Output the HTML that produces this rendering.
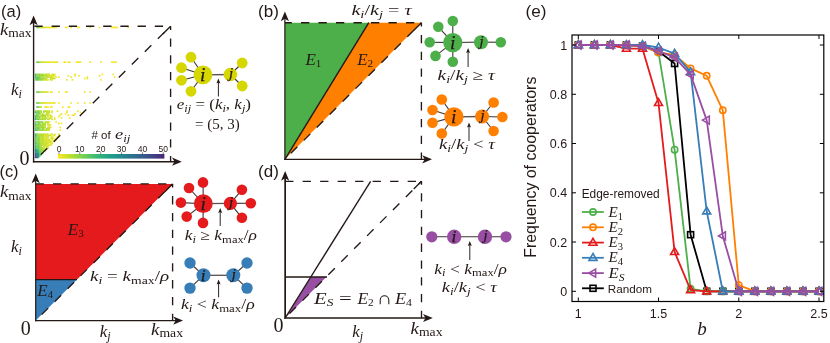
<!DOCTYPE html>
<html><head><meta charset="utf-8"><title>figure</title>
<style>
html,body{margin:0;padding:0;background:#fff;}
body{width:830px;height:343px;overflow:hidden;}
svg{display:block;will-change:transform;}
text{fill:#231815;}
.ss{font-family:"Liberation Sans",sans-serif;}
.mi{font-family:"Liberation Serif",serif;font-style:italic;}
.mr{font-family:"Liberation Serif",serif;font-style:normal;}
.ij{stroke:#231815;stroke-width:0.25px;}
</style></head><body>
<svg width="830" height="343" viewBox="0 0 830 343">
<rect x="0" y="0" width="830" height="343" fill="#ffffff"/>
<text x="1" y="16.5" class="ss" font-size="16.3" textLength="20.2" lengthAdjust="spacingAndGlyphs">(a)</text>
<rect x="36.22" y="26.61" width="1.66" height="1.66" fill="#64ca5e"/>
<rect x="37.58" y="26.61" width="1.66" height="1.66" fill="#7ed24e"/>
<rect x="38.94" y="26.61" width="1.66" height="1.66" fill="#a8db33"/>
<rect x="40.30" y="26.61" width="1.66" height="1.66" fill="#c5e02a"/>
<rect x="41.66" y="26.61" width="1.66" height="1.66" fill="#c6e02a"/>
<rect x="43.02" y="26.61" width="1.66" height="1.66" fill="#d4e228"/>
<rect x="44.38" y="26.61" width="1.66" height="1.66" fill="#e2e427"/>
<rect x="45.74" y="26.61" width="1.66" height="1.66" fill="#dde328"/>
<rect x="47.10" y="26.61" width="1.66" height="1.66" fill="#ede526"/>
<rect x="48.46" y="26.61" width="1.66" height="1.66" fill="#e7e427"/>
<rect x="49.82" y="26.61" width="1.66" height="1.66" fill="#f2e626"/>
<rect x="51.18" y="26.61" width="1.66" height="1.66" fill="#f4e626"/>
<rect x="52.54" y="26.61" width="1.66" height="1.66" fill="#ede526"/>
<rect x="53.90" y="26.61" width="1.66" height="1.66" fill="#e5e427"/>
<rect x="55.26" y="26.61" width="1.66" height="1.66" fill="#f7e626"/>
<rect x="64.78" y="26.61" width="1.66" height="1.66" fill="#f9e725"/>
<rect x="66.14" y="26.61" width="1.66" height="1.66" fill="#f2e626"/>
<rect x="70.22" y="26.61" width="1.66" height="1.66" fill="#ede526"/>
<rect x="77.02" y="26.61" width="1.66" height="1.66" fill="#f3e626"/>
<rect x="78.38" y="26.61" width="1.66" height="1.66" fill="#f6e626"/>
<rect x="89.26" y="26.61" width="1.66" height="1.66" fill="#ece526"/>
<rect x="98.78" y="26.61" width="1.66" height="1.66" fill="#fce725"/>
<rect x="111.02" y="26.61" width="1.66" height="1.66" fill="#eee526"/>
<rect x="112.38" y="26.61" width="1.66" height="1.66" fill="#f8e625"/>
<rect x="113.74" y="26.61" width="1.66" height="1.66" fill="#fbe725"/>
<rect x="115.10" y="26.61" width="1.66" height="1.66" fill="#fbe725"/>
<rect x="116.46" y="26.61" width="1.66" height="1.66" fill="#f8e625"/>
<rect x="127.34" y="26.61" width="1.66" height="1.66" fill="#efe526"/>
<rect x="36.22" y="61.36" width="1.66" height="1.66" fill="#66cb5d"/>
<rect x="37.58" y="61.36" width="1.66" height="1.66" fill="#74cf54"/>
<rect x="38.94" y="61.36" width="1.66" height="1.66" fill="#a9db33"/>
<rect x="40.30" y="61.36" width="1.66" height="1.66" fill="#bedf2a"/>
<rect x="41.66" y="61.36" width="1.66" height="1.66" fill="#c6e02a"/>
<rect x="43.02" y="61.36" width="1.66" height="1.66" fill="#dbe328"/>
<rect x="44.38" y="61.36" width="1.66" height="1.66" fill="#e2e427"/>
<rect x="45.74" y="61.36" width="1.66" height="1.66" fill="#e4e427"/>
<rect x="47.10" y="61.36" width="1.66" height="1.66" fill="#dee328"/>
<rect x="48.46" y="61.36" width="1.66" height="1.66" fill="#e7e427"/>
<rect x="49.82" y="61.36" width="1.66" height="1.66" fill="#ece526"/>
<rect x="51.18" y="61.36" width="1.66" height="1.66" fill="#e8e427"/>
<rect x="52.54" y="61.36" width="1.66" height="1.66" fill="#ede526"/>
<rect x="53.90" y="61.36" width="1.66" height="1.66" fill="#f2e626"/>
<rect x="55.26" y="61.36" width="1.66" height="1.66" fill="#e7e427"/>
<rect x="56.62" y="61.36" width="1.66" height="1.66" fill="#eae527"/>
<rect x="63.42" y="61.36" width="1.66" height="1.66" fill="#f9e625"/>
<rect x="64.78" y="61.36" width="1.66" height="1.66" fill="#f3e626"/>
<rect x="67.50" y="61.36" width="1.66" height="1.66" fill="#f4e626"/>
<rect x="68.86" y="61.36" width="1.66" height="1.66" fill="#eee526"/>
<rect x="75.66" y="61.36" width="1.66" height="1.66" fill="#f0e526"/>
<rect x="77.02" y="61.36" width="1.66" height="1.66" fill="#f8e625"/>
<rect x="78.38" y="61.36" width="1.66" height="1.66" fill="#ece526"/>
<rect x="79.74" y="61.36" width="1.66" height="1.66" fill="#fbe725"/>
<rect x="89.26" y="61.36" width="1.66" height="1.66" fill="#f6e626"/>
<rect x="100.14" y="61.36" width="1.66" height="1.66" fill="#f0e526"/>
<rect x="111.02" y="61.36" width="1.66" height="1.66" fill="#fae725"/>
<rect x="112.38" y="61.36" width="1.66" height="1.66" fill="#f5e626"/>
<rect x="113.74" y="61.36" width="1.66" height="1.66" fill="#fce725"/>
<rect x="115.10" y="61.36" width="1.66" height="1.66" fill="#f1e626"/>
<rect x="36.22" y="91.28" width="1.66" height="1.66" fill="#5bc763"/>
<rect x="37.58" y="91.28" width="1.66" height="1.66" fill="#74cf54"/>
<rect x="38.94" y="91.28" width="1.66" height="1.66" fill="#a3da36"/>
<rect x="40.30" y="91.28" width="1.66" height="1.66" fill="#bfdf2a"/>
<rect x="41.66" y="91.28" width="1.66" height="1.66" fill="#c3e02a"/>
<rect x="43.02" y="91.28" width="1.66" height="1.66" fill="#cee129"/>
<rect x="44.38" y="91.28" width="1.66" height="1.66" fill="#d6e228"/>
<rect x="45.74" y="91.28" width="1.66" height="1.66" fill="#dee328"/>
<rect x="47.10" y="91.28" width="1.66" height="1.66" fill="#dae328"/>
<rect x="49.82" y="91.28" width="1.66" height="1.66" fill="#ede526"/>
<rect x="51.18" y="91.28" width="1.66" height="1.66" fill="#f5e626"/>
<rect x="57.98" y="91.28" width="1.66" height="1.66" fill="#f2e626"/>
<rect x="64.78" y="91.28" width="1.66" height="1.66" fill="#fce725"/>
<rect x="66.14" y="91.28" width="1.66" height="1.66" fill="#f1e526"/>
<rect x="83.82" y="91.28" width="1.66" height="1.66" fill="#f2e626"/>
<rect x="89.26" y="91.28" width="1.66" height="1.66" fill="#ece526"/>
<rect x="36.22" y="102.16" width="1.66" height="1.66" fill="#5ac663"/>
<rect x="37.58" y="102.16" width="1.66" height="1.66" fill="#7bd150"/>
<rect x="38.94" y="102.16" width="1.66" height="1.66" fill="#aedc2f"/>
<rect x="40.30" y="102.16" width="1.66" height="1.66" fill="#b7de2b"/>
<rect x="41.66" y="102.16" width="1.66" height="1.66" fill="#d2e229"/>
<rect x="43.02" y="102.16" width="1.66" height="1.66" fill="#d1e229"/>
<rect x="44.38" y="102.16" width="1.66" height="1.66" fill="#dfe327"/>
<rect x="45.74" y="102.16" width="1.66" height="1.66" fill="#e6e427"/>
<rect x="47.10" y="102.16" width="1.66" height="1.66" fill="#ece526"/>
<rect x="48.46" y="102.16" width="1.66" height="1.66" fill="#dfe327"/>
<rect x="49.82" y="102.16" width="1.66" height="1.66" fill="#f1e526"/>
<rect x="51.18" y="102.16" width="1.66" height="1.66" fill="#f0e526"/>
<rect x="52.54" y="102.16" width="1.66" height="1.66" fill="#eee526"/>
<rect x="53.90" y="102.16" width="1.66" height="1.66" fill="#e4e427"/>
<rect x="57.98" y="102.16" width="1.66" height="1.66" fill="#fce725"/>
<rect x="70.22" y="102.16" width="1.66" height="1.66" fill="#f5e626"/>
<rect x="77.02" y="102.16" width="1.66" height="1.66" fill="#f4e626"/>
<rect x="83.82" y="102.16" width="1.66" height="1.66" fill="#eee526"/>
<rect x="89.26" y="102.16" width="1.66" height="1.66" fill="#efe526"/>
<rect x="36.22" y="106.24" width="1.66" height="1.66" fill="#5ac664"/>
<rect x="37.58" y="106.24" width="1.66" height="1.66" fill="#7bd150"/>
<rect x="38.94" y="106.24" width="1.66" height="1.66" fill="#aedc30"/>
<rect x="40.30" y="106.24" width="1.66" height="1.66" fill="#bedf2a"/>
<rect x="44.38" y="106.24" width="1.66" height="1.66" fill="#eee526"/>
<rect x="45.74" y="106.24" width="1.66" height="1.66" fill="#ece526"/>
<rect x="47.10" y="106.24" width="1.66" height="1.66" fill="#fae725"/>
<rect x="49.82" y="106.24" width="1.66" height="1.66" fill="#fae725"/>
<rect x="51.18" y="106.24" width="1.66" height="1.66" fill="#f9e625"/>
<rect x="62.06" y="106.24" width="1.66" height="1.66" fill="#f9e625"/>
<rect x="67.50" y="106.24" width="1.66" height="1.66" fill="#f5e626"/>
<rect x="68.86" y="106.24" width="1.66" height="1.66" fill="#f3e626"/>
<rect x="34.86" y="79.04" width="1.66" height="1.66" fill="#87d448"/>
<rect x="36.22" y="79.04" width="1.66" height="1.66" fill="#59c664"/>
<rect x="37.58" y="79.04" width="1.66" height="1.66" fill="#78d052"/>
<rect x="38.94" y="79.04" width="1.66" height="1.66" fill="#9cd83b"/>
<rect x="40.30" y="79.04" width="1.66" height="1.66" fill="#7ed24e"/>
<rect x="41.66" y="79.04" width="1.66" height="1.66" fill="#badf2b"/>
<rect x="43.02" y="79.04" width="1.66" height="1.66" fill="#d2e229"/>
<rect x="44.38" y="79.04" width="1.66" height="1.66" fill="#cce129"/>
<rect x="45.74" y="79.04" width="1.66" height="1.66" fill="#dce328"/>
<rect x="47.10" y="79.04" width="1.66" height="1.66" fill="#dde328"/>
<rect x="49.82" y="79.04" width="1.66" height="1.66" fill="#e1e427"/>
<rect x="51.18" y="79.04" width="1.66" height="1.66" fill="#e6e427"/>
<rect x="66.14" y="79.04" width="1.66" height="1.66" fill="#e7e427"/>
<rect x="71.58" y="79.04" width="1.66" height="1.66" fill="#f1e526"/>
<rect x="100.14" y="79.04" width="1.66" height="1.66" fill="#fce725"/>
<rect x="34.86" y="77.68" width="1.66" height="1.66" fill="#7bd150"/>
<rect x="36.22" y="77.68" width="1.66" height="1.66" fill="#45bd70"/>
<rect x="37.58" y="77.68" width="1.66" height="1.66" fill="#69cc5b"/>
<rect x="38.94" y="77.68" width="1.66" height="1.66" fill="#76d053"/>
<rect x="40.30" y="77.68" width="1.66" height="1.66" fill="#90d643"/>
<rect x="41.66" y="77.68" width="1.66" height="1.66" fill="#a1da38"/>
<rect x="43.02" y="77.68" width="1.66" height="1.66" fill="#a4da36"/>
<rect x="44.38" y="77.68" width="1.66" height="1.66" fill="#a5da35"/>
<rect x="45.74" y="77.68" width="1.66" height="1.66" fill="#d9e228"/>
<rect x="49.82" y="77.68" width="1.66" height="1.66" fill="#bddf2a"/>
<rect x="51.18" y="77.68" width="1.66" height="1.66" fill="#d7e228"/>
<rect x="52.54" y="77.68" width="1.66" height="1.66" fill="#cfe129"/>
<rect x="53.90" y="77.68" width="1.66" height="1.66" fill="#cde129"/>
<rect x="83.82" y="77.68" width="1.66" height="1.66" fill="#f3e626"/>
<rect x="86.54" y="77.68" width="1.66" height="1.66" fill="#ebe527"/>
<rect x="34.86" y="76.32" width="1.66" height="1.66" fill="#49bf6e"/>
<rect x="36.22" y="76.32" width="1.66" height="1.66" fill="#60c860"/>
<rect x="37.58" y="76.32" width="1.66" height="1.66" fill="#58c565"/>
<rect x="38.94" y="76.32" width="1.66" height="1.66" fill="#7bd150"/>
<rect x="40.30" y="76.32" width="1.66" height="1.66" fill="#bcdf2a"/>
<rect x="41.66" y="76.32" width="1.66" height="1.66" fill="#c4e02a"/>
<rect x="43.02" y="76.32" width="1.66" height="1.66" fill="#a2da37"/>
<rect x="45.74" y="76.32" width="1.66" height="1.66" fill="#b7de2b"/>
<rect x="47.10" y="76.32" width="1.66" height="1.66" fill="#b0dd2e"/>
<rect x="48.46" y="76.32" width="1.66" height="1.66" fill="#c9e129"/>
<rect x="49.82" y="76.32" width="1.66" height="1.66" fill="#bfdf2a"/>
<rect x="51.18" y="76.32" width="1.66" height="1.66" fill="#d7e228"/>
<rect x="52.54" y="76.32" width="1.66" height="1.66" fill="#e4e427"/>
<rect x="55.26" y="76.32" width="1.66" height="1.66" fill="#f0e526"/>
<rect x="57.98" y="76.32" width="1.66" height="1.66" fill="#f5e626"/>
<rect x="70.22" y="76.32" width="1.66" height="1.66" fill="#ebe526"/>
<rect x="86.54" y="76.32" width="1.66" height="1.66" fill="#ede526"/>
<rect x="113.74" y="76.32" width="1.66" height="1.66" fill="#f8e625"/>
<rect x="34.86" y="74.96" width="1.66" height="1.66" fill="#60c860"/>
<rect x="36.22" y="74.96" width="1.66" height="1.66" fill="#74cf54"/>
<rect x="37.58" y="74.96" width="1.66" height="1.66" fill="#a9db33"/>
<rect x="38.94" y="74.96" width="1.66" height="1.66" fill="#7ed24e"/>
<rect x="40.30" y="74.96" width="1.66" height="1.66" fill="#8fd543"/>
<rect x="41.66" y="74.96" width="1.66" height="1.66" fill="#9cd83b"/>
<rect x="43.02" y="74.96" width="1.66" height="1.66" fill="#aadb32"/>
<rect x="44.38" y="74.96" width="1.66" height="1.66" fill="#a5da35"/>
<rect x="45.74" y="74.96" width="1.66" height="1.66" fill="#b3dd2d"/>
<rect x="47.10" y="74.96" width="1.66" height="1.66" fill="#d0e129"/>
<rect x="48.46" y="74.96" width="1.66" height="1.66" fill="#e4e427"/>
<rect x="49.82" y="74.96" width="1.66" height="1.66" fill="#e3e427"/>
<rect x="51.18" y="74.96" width="1.66" height="1.66" fill="#c5e02a"/>
<rect x="52.54" y="74.96" width="1.66" height="1.66" fill="#e5e427"/>
<rect x="53.90" y="74.96" width="1.66" height="1.66" fill="#e9e427"/>
<rect x="67.50" y="74.96" width="1.66" height="1.66" fill="#f4e626"/>
<rect x="74.30" y="74.96" width="1.66" height="1.66" fill="#f7e626"/>
<rect x="78.38" y="74.96" width="1.66" height="1.66" fill="#fce725"/>
<rect x="98.78" y="74.96" width="1.66" height="1.66" fill="#eae527"/>
<rect x="34.86" y="73.60" width="1.66" height="1.66" fill="#43bd71"/>
<rect x="36.22" y="73.60" width="1.66" height="1.66" fill="#9ed939"/>
<rect x="37.58" y="73.60" width="1.66" height="1.66" fill="#8fd543"/>
<rect x="38.94" y="73.60" width="1.66" height="1.66" fill="#82d24c"/>
<rect x="40.30" y="73.60" width="1.66" height="1.66" fill="#aedc30"/>
<rect x="41.66" y="73.60" width="1.66" height="1.66" fill="#9dd93a"/>
<rect x="43.02" y="73.60" width="1.66" height="1.66" fill="#bbdf2a"/>
<rect x="44.38" y="73.60" width="1.66" height="1.66" fill="#d2e229"/>
<rect x="45.74" y="73.60" width="1.66" height="1.66" fill="#c7e02a"/>
<rect x="47.10" y="73.60" width="1.66" height="1.66" fill="#bedf2a"/>
<rect x="48.46" y="73.60" width="1.66" height="1.66" fill="#c8e029"/>
<rect x="51.18" y="73.60" width="1.66" height="1.66" fill="#e3e427"/>
<rect x="52.54" y="73.60" width="1.66" height="1.66" fill="#d4e228"/>
<rect x="53.90" y="73.60" width="1.66" height="1.66" fill="#ede526"/>
<rect x="74.30" y="73.60" width="1.66" height="1.66" fill="#f2e626"/>
<rect x="101.50" y="73.60" width="1.66" height="1.66" fill="#fde725"/>
<rect x="112.38" y="73.60" width="1.66" height="1.66" fill="#ece526"/>
<rect x="34.86" y="118.48" width="1.66" height="1.66" fill="#32b47b"/>
<rect x="36.22" y="118.48" width="1.66" height="1.66" fill="#80d24d"/>
<rect x="37.58" y="118.48" width="1.66" height="1.66" fill="#5ac663"/>
<rect x="38.94" y="118.48" width="1.66" height="1.66" fill="#9ad83c"/>
<rect x="40.30" y="118.48" width="1.66" height="1.66" fill="#a6db35"/>
<rect x="41.66" y="118.48" width="1.66" height="1.66" fill="#9dd93a"/>
<rect x="43.02" y="118.48" width="1.66" height="1.66" fill="#bddf2a"/>
<rect x="44.38" y="118.48" width="1.66" height="1.66" fill="#a0d939"/>
<rect x="47.10" y="118.48" width="1.66" height="1.66" fill="#b0dd2e"/>
<rect x="48.46" y="118.48" width="1.66" height="1.66" fill="#dae328"/>
<rect x="51.18" y="118.48" width="1.66" height="1.66" fill="#cee129"/>
<rect x="53.90" y="118.48" width="1.66" height="1.66" fill="#e8e427"/>
<rect x="34.86" y="117.12" width="1.66" height="1.66" fill="#30b17d"/>
<rect x="36.22" y="117.12" width="1.66" height="1.66" fill="#93d641"/>
<rect x="37.58" y="117.12" width="1.66" height="1.66" fill="#97d73e"/>
<rect x="38.94" y="117.12" width="1.66" height="1.66" fill="#9bd83c"/>
<rect x="41.66" y="117.12" width="1.66" height="1.66" fill="#afdd2f"/>
<rect x="43.02" y="117.12" width="1.66" height="1.66" fill="#bddf2a"/>
<rect x="44.38" y="117.12" width="1.66" height="1.66" fill="#b2dd2d"/>
<rect x="45.74" y="117.12" width="1.66" height="1.66" fill="#bedf2a"/>
<rect x="48.46" y="117.12" width="1.66" height="1.66" fill="#dce328"/>
<rect x="49.82" y="117.12" width="1.66" height="1.66" fill="#c4e02a"/>
<rect x="53.90" y="117.12" width="1.66" height="1.66" fill="#fce725"/>
<rect x="60.70" y="117.12" width="1.66" height="1.66" fill="#f4e626"/>
<rect x="68.86" y="117.12" width="1.66" height="1.66" fill="#f9e725"/>
<rect x="34.86" y="115.76" width="1.66" height="1.66" fill="#60c860"/>
<rect x="36.22" y="115.76" width="1.66" height="1.66" fill="#72cf55"/>
<rect x="37.58" y="115.76" width="1.66" height="1.66" fill="#98d73d"/>
<rect x="38.94" y="115.76" width="1.66" height="1.66" fill="#7fd24d"/>
<rect x="40.30" y="115.76" width="1.66" height="1.66" fill="#b2dd2d"/>
<rect x="41.66" y="115.76" width="1.66" height="1.66" fill="#b7de2b"/>
<rect x="43.02" y="115.76" width="1.66" height="1.66" fill="#cce129"/>
<rect x="44.38" y="115.76" width="1.66" height="1.66" fill="#a8db33"/>
<rect x="47.10" y="115.76" width="1.66" height="1.66" fill="#d8e228"/>
<rect x="49.82" y="115.76" width="1.66" height="1.66" fill="#e7e427"/>
<rect x="51.18" y="115.76" width="1.66" height="1.66" fill="#d7e228"/>
<rect x="57.98" y="115.76" width="1.66" height="1.66" fill="#f5e626"/>
<rect x="34.86" y="114.40" width="1.66" height="1.66" fill="#7bd150"/>
<rect x="36.22" y="114.40" width="1.66" height="1.66" fill="#52c368"/>
<rect x="37.58" y="114.40" width="1.66" height="1.66" fill="#8fd543"/>
<rect x="40.30" y="114.40" width="1.66" height="1.66" fill="#c3e02a"/>
<rect x="41.66" y="114.40" width="1.66" height="1.66" fill="#8ad447"/>
<rect x="43.02" y="114.40" width="1.66" height="1.66" fill="#91d642"/>
<rect x="44.38" y="114.40" width="1.66" height="1.66" fill="#b6de2b"/>
<rect x="45.74" y="114.40" width="1.66" height="1.66" fill="#cae129"/>
<rect x="47.10" y="114.40" width="1.66" height="1.66" fill="#d2e229"/>
<rect x="48.46" y="114.40" width="1.66" height="1.66" fill="#e0e327"/>
<rect x="49.82" y="114.40" width="1.66" height="1.66" fill="#d8e228"/>
<rect x="59.34" y="114.40" width="1.66" height="1.66" fill="#f2e626"/>
<rect x="67.50" y="114.40" width="1.66" height="1.66" fill="#f4e626"/>
<rect x="71.58" y="114.40" width="1.66" height="1.66" fill="#fce725"/>
<rect x="72.94" y="114.40" width="1.66" height="1.66" fill="#e8e427"/>
<rect x="36.22" y="113.04" width="1.66" height="1.66" fill="#76d053"/>
<rect x="37.58" y="113.04" width="1.66" height="1.66" fill="#9ed939"/>
<rect x="38.94" y="113.04" width="1.66" height="1.66" fill="#70ce57"/>
<rect x="41.66" y="113.04" width="1.66" height="1.66" fill="#b5de2b"/>
<rect x="45.74" y="113.04" width="1.66" height="1.66" fill="#cce129"/>
<rect x="47.10" y="113.04" width="1.66" height="1.66" fill="#cae129"/>
<rect x="60.70" y="113.04" width="1.66" height="1.66" fill="#f8e625"/>
<rect x="64.78" y="113.04" width="1.66" height="1.66" fill="#fce725"/>
<rect x="74.30" y="113.04" width="1.66" height="1.66" fill="#fbe725"/>
<rect x="34.86" y="111.68" width="1.66" height="1.66" fill="#42bc71"/>
<rect x="36.22" y="111.68" width="1.66" height="1.66" fill="#69cc5b"/>
<rect x="37.58" y="111.68" width="1.66" height="1.66" fill="#8ad446"/>
<rect x="38.94" y="111.68" width="1.66" height="1.66" fill="#89d447"/>
<rect x="40.30" y="111.68" width="1.66" height="1.66" fill="#b5de2b"/>
<rect x="43.02" y="111.68" width="1.66" height="1.66" fill="#bddf2a"/>
<rect x="45.74" y="111.68" width="1.66" height="1.66" fill="#bfdf2a"/>
<rect x="47.10" y="111.68" width="1.66" height="1.66" fill="#cbe129"/>
<rect x="48.46" y="111.68" width="1.66" height="1.66" fill="#bcdf2a"/>
<rect x="51.18" y="111.68" width="1.66" height="1.66" fill="#e7e427"/>
<rect x="66.14" y="111.68" width="1.66" height="1.66" fill="#efe526"/>
<rect x="79.74" y="111.68" width="1.66" height="1.66" fill="#f5e626"/>
<rect x="34.86" y="110.32" width="1.66" height="1.66" fill="#67cb5c"/>
<rect x="36.22" y="110.32" width="1.66" height="1.66" fill="#9dd83b"/>
<rect x="37.58" y="110.32" width="1.66" height="1.66" fill="#75d054"/>
<rect x="38.94" y="110.32" width="1.66" height="1.66" fill="#9cd83b"/>
<rect x="40.30" y="110.32" width="1.66" height="1.66" fill="#aedc2f"/>
<rect x="43.02" y="110.32" width="1.66" height="1.66" fill="#b5de2b"/>
<rect x="44.38" y="110.32" width="1.66" height="1.66" fill="#9fd939"/>
<rect x="45.74" y="110.32" width="1.66" height="1.66" fill="#c3e02a"/>
<rect x="47.10" y="110.32" width="1.66" height="1.66" fill="#c7e02a"/>
<rect x="48.46" y="110.32" width="1.66" height="1.66" fill="#cbe129"/>
<rect x="51.18" y="110.32" width="1.66" height="1.66" fill="#ece526"/>
<rect x="56.62" y="110.32" width="1.66" height="1.66" fill="#efe526"/>
<rect x="66.14" y="110.32" width="1.66" height="1.66" fill="#f2e626"/>
<rect x="77.02" y="110.32" width="1.66" height="1.66" fill="#e8e427"/>
<rect x="34.86" y="129.36" width="1.66" height="1.66" fill="#47be6e"/>
<rect x="36.22" y="129.36" width="1.66" height="1.66" fill="#49bf6d"/>
<rect x="37.58" y="129.36" width="1.66" height="1.66" fill="#95d73f"/>
<rect x="38.94" y="129.36" width="1.66" height="1.66" fill="#a2da37"/>
<rect x="40.30" y="129.36" width="1.66" height="1.66" fill="#83d34b"/>
<rect x="41.66" y="129.36" width="1.66" height="1.66" fill="#9dd93a"/>
<rect x="43.02" y="129.36" width="1.66" height="1.66" fill="#b3de2c"/>
<rect x="44.38" y="129.36" width="1.66" height="1.66" fill="#b5de2b"/>
<rect x="45.74" y="129.36" width="1.66" height="1.66" fill="#c2e02a"/>
<rect x="47.10" y="129.36" width="1.66" height="1.66" fill="#c7e029"/>
<rect x="48.46" y="129.36" width="1.66" height="1.66" fill="#d4e228"/>
<rect x="59.34" y="129.36" width="1.66" height="1.66" fill="#fae725"/>
<rect x="34.86" y="128.00" width="1.66" height="1.66" fill="#5cc763"/>
<rect x="36.22" y="128.00" width="1.66" height="1.66" fill="#6ccd59"/>
<rect x="37.58" y="128.00" width="1.66" height="1.66" fill="#69cc5b"/>
<rect x="38.94" y="128.00" width="1.66" height="1.66" fill="#92d641"/>
<rect x="41.66" y="128.00" width="1.66" height="1.66" fill="#88d448"/>
<rect x="43.02" y="128.00" width="1.66" height="1.66" fill="#b1dd2d"/>
<rect x="45.74" y="128.00" width="1.66" height="1.66" fill="#a8db33"/>
<rect x="47.10" y="128.00" width="1.66" height="1.66" fill="#b3de2c"/>
<rect x="48.46" y="128.00" width="1.66" height="1.66" fill="#c8e029"/>
<rect x="34.86" y="126.64" width="1.66" height="1.66" fill="#74cf54"/>
<rect x="36.22" y="126.64" width="1.66" height="1.66" fill="#78d052"/>
<rect x="37.58" y="126.64" width="1.66" height="1.66" fill="#6ccd59"/>
<rect x="38.94" y="126.64" width="1.66" height="1.66" fill="#a5da35"/>
<rect x="40.30" y="126.64" width="1.66" height="1.66" fill="#97d73e"/>
<rect x="41.66" y="126.64" width="1.66" height="1.66" fill="#98d73e"/>
<rect x="43.02" y="126.64" width="1.66" height="1.66" fill="#9cd83b"/>
<rect x="44.38" y="126.64" width="1.66" height="1.66" fill="#badf2b"/>
<rect x="47.10" y="126.64" width="1.66" height="1.66" fill="#c3e02a"/>
<rect x="48.46" y="126.64" width="1.66" height="1.66" fill="#cce129"/>
<rect x="49.82" y="126.64" width="1.66" height="1.66" fill="#eae527"/>
<rect x="59.34" y="126.64" width="1.66" height="1.66" fill="#fce725"/>
<rect x="34.86" y="125.28" width="1.66" height="1.66" fill="#5cc762"/>
<rect x="36.22" y="125.28" width="1.66" height="1.66" fill="#92d641"/>
<rect x="37.58" y="125.28" width="1.66" height="1.66" fill="#b1dd2e"/>
<rect x="38.94" y="125.28" width="1.66" height="1.66" fill="#abdc31"/>
<rect x="40.30" y="125.28" width="1.66" height="1.66" fill="#95d73f"/>
<rect x="41.66" y="125.28" width="1.66" height="1.66" fill="#a4da36"/>
<rect x="43.02" y="125.28" width="1.66" height="1.66" fill="#abdc31"/>
<rect x="44.38" y="125.28" width="1.66" height="1.66" fill="#c4e02a"/>
<rect x="48.46" y="125.28" width="1.66" height="1.66" fill="#e4e427"/>
<rect x="34.86" y="123.92" width="1.66" height="1.66" fill="#57c565"/>
<rect x="36.22" y="123.92" width="1.66" height="1.66" fill="#86d349"/>
<rect x="37.58" y="123.92" width="1.66" height="1.66" fill="#6bcd5a"/>
<rect x="38.94" y="123.92" width="1.66" height="1.66" fill="#9dd93a"/>
<rect x="40.30" y="123.92" width="1.66" height="1.66" fill="#8ad446"/>
<rect x="41.66" y="123.92" width="1.66" height="1.66" fill="#b8de2b"/>
<rect x="43.02" y="123.92" width="1.66" height="1.66" fill="#9ad83c"/>
<rect x="44.38" y="123.92" width="1.66" height="1.66" fill="#bfdf2a"/>
<rect x="47.10" y="123.92" width="1.66" height="1.66" fill="#c5e02a"/>
<rect x="48.46" y="123.92" width="1.66" height="1.66" fill="#dfe327"/>
<rect x="49.82" y="123.92" width="1.66" height="1.66" fill="#f5e626"/>
<rect x="34.86" y="122.56" width="1.66" height="1.66" fill="#67cb5c"/>
<rect x="37.58" y="122.56" width="1.66" height="1.66" fill="#72cf56"/>
<rect x="38.94" y="122.56" width="1.66" height="1.66" fill="#96d73f"/>
<rect x="41.66" y="122.56" width="1.66" height="1.66" fill="#a3da36"/>
<rect x="43.02" y="122.56" width="1.66" height="1.66" fill="#aedd2f"/>
<rect x="44.38" y="122.56" width="1.66" height="1.66" fill="#afdd2f"/>
<rect x="47.10" y="122.56" width="1.66" height="1.66" fill="#badf2b"/>
<rect x="57.98" y="122.56" width="1.66" height="1.66" fill="#e8e427"/>
<rect x="60.70" y="122.56" width="1.66" height="1.66" fill="#fbe725"/>
<rect x="34.86" y="121.20" width="1.66" height="1.66" fill="#6ece58"/>
<rect x="36.22" y="121.20" width="1.66" height="1.66" fill="#8ad446"/>
<rect x="37.58" y="121.20" width="1.66" height="1.66" fill="#68cc5b"/>
<rect x="38.94" y="121.20" width="1.66" height="1.66" fill="#8dd544"/>
<rect x="40.30" y="121.20" width="1.66" height="1.66" fill="#7ed24e"/>
<rect x="41.66" y="121.20" width="1.66" height="1.66" fill="#8ad446"/>
<rect x="44.38" y="121.20" width="1.66" height="1.66" fill="#d2e229"/>
<rect x="45.74" y="121.20" width="1.66" height="1.66" fill="#afdd2f"/>
<rect x="47.10" y="121.20" width="1.66" height="1.66" fill="#bddf2a"/>
<rect x="48.46" y="121.20" width="1.66" height="1.66" fill="#e4e427"/>
<rect x="55.26" y="121.20" width="1.66" height="1.66" fill="#f7e625"/>
<rect x="34.86" y="156.56" width="1.66" height="1.66" fill="#423d83"/>
<rect x="36.22" y="156.56" width="1.66" height="1.66" fill="#38578b"/>
<rect x="37.58" y="156.56" width="1.66" height="1.66" fill="#25a585"/>
<rect x="34.86" y="155.20" width="1.66" height="1.66" fill="#3b4f8a"/>
<rect x="36.22" y="155.20" width="1.66" height="1.66" fill="#31688e"/>
<rect x="37.58" y="155.20" width="1.66" height="1.66" fill="#287d8e"/>
<rect x="38.94" y="155.20" width="1.66" height="1.66" fill="#4ec16b"/>
<rect x="34.86" y="153.84" width="1.66" height="1.66" fill="#34618d"/>
<rect x="36.22" y="153.84" width="1.66" height="1.66" fill="#2b778e"/>
<rect x="37.58" y="153.84" width="1.66" height="1.66" fill="#238c8c"/>
<rect x="38.94" y="153.84" width="1.66" height="1.66" fill="#4fc16a"/>
<rect x="40.30" y="153.84" width="1.66" height="1.66" fill="#75d053"/>
<rect x="34.86" y="152.48" width="1.66" height="1.66" fill="#2d708e"/>
<rect x="36.22" y="152.48" width="1.66" height="1.66" fill="#25858d"/>
<rect x="37.58" y="152.48" width="1.66" height="1.66" fill="#209c89"/>
<rect x="38.94" y="152.48" width="1.66" height="1.66" fill="#61c960"/>
<rect x="40.30" y="152.48" width="1.66" height="1.66" fill="#6dce59"/>
<rect x="41.66" y="152.48" width="1.66" height="1.66" fill="#87d448"/>
<rect x="34.86" y="151.12" width="1.66" height="1.66" fill="#277f8e"/>
<rect x="36.22" y="151.12" width="1.66" height="1.66" fill="#21958b"/>
<rect x="37.58" y="151.12" width="1.66" height="1.66" fill="#2aaa81"/>
<rect x="38.94" y="151.12" width="1.66" height="1.66" fill="#57c565"/>
<rect x="40.30" y="151.12" width="1.66" height="1.66" fill="#77d053"/>
<rect x="41.66" y="151.12" width="1.66" height="1.66" fill="#a4da36"/>
<rect x="34.86" y="149.76" width="1.66" height="1.66" fill="#238e8c"/>
<rect x="36.22" y="149.76" width="1.66" height="1.66" fill="#24a485"/>
<rect x="37.58" y="149.76" width="1.66" height="1.66" fill="#37b878"/>
<rect x="38.94" y="149.76" width="1.66" height="1.66" fill="#81d24c"/>
<rect x="40.30" y="149.76" width="1.66" height="1.66" fill="#75cf54"/>
<rect x="41.66" y="149.76" width="1.66" height="1.66" fill="#abdc32"/>
<rect x="43.02" y="149.76" width="1.66" height="1.66" fill="#9ed939"/>
<rect x="44.38" y="149.76" width="1.66" height="1.66" fill="#cee129"/>
<rect x="34.86" y="148.40" width="1.66" height="1.66" fill="#1f9e89"/>
<rect x="36.22" y="148.40" width="1.66" height="1.66" fill="#31b27c"/>
<rect x="37.58" y="148.40" width="1.66" height="1.66" fill="#57c565"/>
<rect x="38.94" y="148.40" width="1.66" height="1.66" fill="#8bd545"/>
<rect x="40.30" y="148.40" width="1.66" height="1.66" fill="#8ad447"/>
<rect x="41.66" y="148.40" width="1.66" height="1.66" fill="#a4da36"/>
<rect x="43.02" y="148.40" width="1.66" height="1.66" fill="#c3e02a"/>
<rect x="44.38" y="148.40" width="1.66" height="1.66" fill="#b2dd2d"/>
<rect x="45.74" y="148.40" width="1.66" height="1.66" fill="#c0df2a"/>
<rect x="34.86" y="147.04" width="1.66" height="1.66" fill="#43bd71"/>
<rect x="36.22" y="147.04" width="1.66" height="1.66" fill="#69cc5b"/>
<rect x="37.58" y="147.04" width="1.66" height="1.66" fill="#60c860"/>
<rect x="38.94" y="147.04" width="1.66" height="1.66" fill="#89d447"/>
<rect x="40.30" y="147.04" width="1.66" height="1.66" fill="#94d740"/>
<rect x="41.66" y="147.04" width="1.66" height="1.66" fill="#aadb32"/>
<rect x="43.02" y="147.04" width="1.66" height="1.66" fill="#bbdf2a"/>
<rect x="45.74" y="147.04" width="1.66" height="1.66" fill="#dce328"/>
<rect x="47.10" y="147.04" width="1.66" height="1.66" fill="#d0e129"/>
<rect x="34.86" y="145.68" width="1.66" height="1.66" fill="#3ebb74"/>
<rect x="36.22" y="145.68" width="1.66" height="1.66" fill="#59c564"/>
<rect x="37.58" y="145.68" width="1.66" height="1.66" fill="#79d051"/>
<rect x="38.94" y="145.68" width="1.66" height="1.66" fill="#8dd544"/>
<rect x="40.30" y="145.68" width="1.66" height="1.66" fill="#abdc31"/>
<rect x="43.02" y="145.68" width="1.66" height="1.66" fill="#cde129"/>
<rect x="44.38" y="145.68" width="1.66" height="1.66" fill="#cfe129"/>
<rect x="45.74" y="145.68" width="1.66" height="1.66" fill="#d4e228"/>
<rect x="47.10" y="145.68" width="1.66" height="1.66" fill="#cbe129"/>
<rect x="34.86" y="144.32" width="1.66" height="1.66" fill="#52c368"/>
<rect x="36.22" y="144.32" width="1.66" height="1.66" fill="#85d34a"/>
<rect x="37.58" y="144.32" width="1.66" height="1.66" fill="#6ccd59"/>
<rect x="38.94" y="144.32" width="1.66" height="1.66" fill="#9ed939"/>
<rect x="40.30" y="144.32" width="1.66" height="1.66" fill="#a3da37"/>
<rect x="41.66" y="144.32" width="1.66" height="1.66" fill="#b0dd2e"/>
<rect x="43.02" y="144.32" width="1.66" height="1.66" fill="#d0e129"/>
<rect x="44.38" y="144.32" width="1.66" height="1.66" fill="#badf2b"/>
<rect x="45.74" y="144.32" width="1.66" height="1.66" fill="#dce328"/>
<rect x="47.10" y="144.32" width="1.66" height="1.66" fill="#eee526"/>
<rect x="48.46" y="144.32" width="1.66" height="1.66" fill="#e6e427"/>
<rect x="49.82" y="144.32" width="1.66" height="1.66" fill="#e0e327"/>
<rect x="34.86" y="142.96" width="1.66" height="1.66" fill="#4ec16a"/>
<rect x="36.22" y="142.96" width="1.66" height="1.66" fill="#6dcd59"/>
<rect x="37.58" y="142.96" width="1.66" height="1.66" fill="#69cc5b"/>
<rect x="38.94" y="142.96" width="1.66" height="1.66" fill="#89d447"/>
<rect x="40.30" y="142.96" width="1.66" height="1.66" fill="#a1da38"/>
<rect x="41.66" y="142.96" width="1.66" height="1.66" fill="#cee129"/>
<rect x="43.02" y="142.96" width="1.66" height="1.66" fill="#b9df2b"/>
<rect x="44.38" y="142.96" width="1.66" height="1.66" fill="#bcdf2a"/>
<rect x="45.74" y="142.96" width="1.66" height="1.66" fill="#c2e02a"/>
<rect x="47.10" y="142.96" width="1.66" height="1.66" fill="#cde129"/>
<rect x="49.82" y="142.96" width="1.66" height="1.66" fill="#eae527"/>
<rect x="51.18" y="142.96" width="1.66" height="1.66" fill="#d4e228"/>
<rect x="34.86" y="141.60" width="1.66" height="1.66" fill="#3fbb73"/>
<rect x="36.22" y="141.60" width="1.66" height="1.66" fill="#91d642"/>
<rect x="37.58" y="141.60" width="1.66" height="1.66" fill="#9ed939"/>
<rect x="38.94" y="141.60" width="1.66" height="1.66" fill="#9fd939"/>
<rect x="40.30" y="141.60" width="1.66" height="1.66" fill="#bcdf2a"/>
<rect x="41.66" y="141.60" width="1.66" height="1.66" fill="#b8de2b"/>
<rect x="43.02" y="141.60" width="1.66" height="1.66" fill="#c6e02a"/>
<rect x="44.38" y="141.60" width="1.66" height="1.66" fill="#dbe328"/>
<rect x="45.74" y="141.60" width="1.66" height="1.66" fill="#e7e427"/>
<rect x="47.10" y="141.60" width="1.66" height="1.66" fill="#c2e02a"/>
<rect x="48.46" y="141.60" width="1.66" height="1.66" fill="#d8e228"/>
<rect x="49.82" y="141.60" width="1.66" height="1.66" fill="#f2e626"/>
<rect x="51.18" y="141.60" width="1.66" height="1.66" fill="#e7e427"/>
<rect x="34.86" y="140.24" width="1.66" height="1.66" fill="#5cc762"/>
<rect x="36.22" y="140.24" width="1.66" height="1.66" fill="#89d447"/>
<rect x="37.58" y="140.24" width="1.66" height="1.66" fill="#7ed24e"/>
<rect x="38.94" y="140.24" width="1.66" height="1.66" fill="#9cd83b"/>
<rect x="40.30" y="140.24" width="1.66" height="1.66" fill="#b6de2b"/>
<rect x="41.66" y="140.24" width="1.66" height="1.66" fill="#addc30"/>
<rect x="43.02" y="140.24" width="1.66" height="1.66" fill="#d2e229"/>
<rect x="44.38" y="140.24" width="1.66" height="1.66" fill="#bfdf2a"/>
<rect x="45.74" y="140.24" width="1.66" height="1.66" fill="#c0df2a"/>
<rect x="47.10" y="140.24" width="1.66" height="1.66" fill="#e4e427"/>
<rect x="48.46" y="140.24" width="1.66" height="1.66" fill="#c9e129"/>
<rect x="49.82" y="140.24" width="1.66" height="1.66" fill="#d0e129"/>
<rect x="52.54" y="140.24" width="1.66" height="1.66" fill="#dbe328"/>
<rect x="53.90" y="140.24" width="1.66" height="1.66" fill="#dae328"/>
<rect x="34.86" y="138.88" width="1.66" height="1.66" fill="#56c466"/>
<rect x="36.22" y="138.88" width="1.66" height="1.66" fill="#9fd939"/>
<rect x="37.58" y="138.88" width="1.66" height="1.66" fill="#74cf54"/>
<rect x="38.94" y="138.88" width="1.66" height="1.66" fill="#9ad83c"/>
<rect x="40.30" y="138.88" width="1.66" height="1.66" fill="#bddf2a"/>
<rect x="41.66" y="138.88" width="1.66" height="1.66" fill="#c9e029"/>
<rect x="43.02" y="138.88" width="1.66" height="1.66" fill="#b2dd2d"/>
<rect x="44.38" y="138.88" width="1.66" height="1.66" fill="#e4e427"/>
<rect x="45.74" y="138.88" width="1.66" height="1.66" fill="#cfe129"/>
<rect x="47.10" y="138.88" width="1.66" height="1.66" fill="#efe526"/>
<rect x="48.46" y="138.88" width="1.66" height="1.66" fill="#c7e029"/>
<rect x="51.18" y="138.88" width="1.66" height="1.66" fill="#f3e626"/>
<rect x="53.90" y="138.88" width="1.66" height="1.66" fill="#fae725"/>
<rect x="55.26" y="138.88" width="1.66" height="1.66" fill="#f5e626"/>
<rect x="34.86" y="137.52" width="1.66" height="1.66" fill="#6ccd59"/>
<rect x="36.22" y="137.52" width="1.66" height="1.66" fill="#8ed544"/>
<rect x="37.58" y="137.52" width="1.66" height="1.66" fill="#99d83d"/>
<rect x="38.94" y="137.52" width="1.66" height="1.66" fill="#95d73f"/>
<rect x="40.30" y="137.52" width="1.66" height="1.66" fill="#c3e02a"/>
<rect x="41.66" y="137.52" width="1.66" height="1.66" fill="#bfdf2a"/>
<rect x="43.02" y="137.52" width="1.66" height="1.66" fill="#b7de2b"/>
<rect x="44.38" y="137.52" width="1.66" height="1.66" fill="#ebe526"/>
<rect x="45.74" y="137.52" width="1.66" height="1.66" fill="#e6e427"/>
<rect x="47.10" y="137.52" width="1.66" height="1.66" fill="#e7e427"/>
<rect x="49.82" y="137.52" width="1.66" height="1.66" fill="#e6e427"/>
<rect x="51.18" y="137.52" width="1.66" height="1.66" fill="#d8e228"/>
<rect x="52.54" y="137.52" width="1.66" height="1.66" fill="#e8e427"/>
<rect x="55.26" y="137.52" width="1.66" height="1.66" fill="#e9e427"/>
<rect x="34.86" y="136.16" width="1.66" height="1.66" fill="#4fc26a"/>
<rect x="36.22" y="136.16" width="1.66" height="1.66" fill="#82d24b"/>
<rect x="37.58" y="136.16" width="1.66" height="1.66" fill="#91d642"/>
<rect x="38.94" y="136.16" width="1.66" height="1.66" fill="#8bd546"/>
<rect x="40.30" y="136.16" width="1.66" height="1.66" fill="#bfdf2a"/>
<rect x="41.66" y="136.16" width="1.66" height="1.66" fill="#bcdf2a"/>
<rect x="43.02" y="136.16" width="1.66" height="1.66" fill="#b7de2b"/>
<rect x="44.38" y="136.16" width="1.66" height="1.66" fill="#e1e327"/>
<rect x="45.74" y="136.16" width="1.66" height="1.66" fill="#c7e02a"/>
<rect x="47.10" y="136.16" width="1.66" height="1.66" fill="#cde129"/>
<rect x="51.18" y="136.16" width="1.66" height="1.66" fill="#d1e229"/>
<rect x="56.62" y="136.16" width="1.66" height="1.66" fill="#e2e427"/>
<rect x="34.86" y="134.80" width="1.66" height="1.66" fill="#45be70"/>
<rect x="36.22" y="134.80" width="1.66" height="1.66" fill="#73cf55"/>
<rect x="37.58" y="134.80" width="1.66" height="1.66" fill="#b0dd2e"/>
<rect x="38.94" y="134.80" width="1.66" height="1.66" fill="#a3da36"/>
<rect x="40.30" y="134.80" width="1.66" height="1.66" fill="#a5da35"/>
<rect x="41.66" y="134.80" width="1.66" height="1.66" fill="#afdd2e"/>
<rect x="43.02" y="134.80" width="1.66" height="1.66" fill="#cce129"/>
<rect x="44.38" y="134.80" width="1.66" height="1.66" fill="#e3e427"/>
<rect x="45.74" y="134.80" width="1.66" height="1.66" fill="#dbe328"/>
<rect x="47.10" y="134.80" width="1.66" height="1.66" fill="#dae328"/>
<rect x="48.46" y="134.80" width="1.66" height="1.66" fill="#c8e029"/>
<rect x="49.82" y="134.80" width="1.66" height="1.66" fill="#dae328"/>
<rect x="52.54" y="134.80" width="1.66" height="1.66" fill="#e9e527"/>
<rect x="53.90" y="134.80" width="1.66" height="1.66" fill="#f9e725"/>
<rect x="57.98" y="134.80" width="1.66" height="1.66" fill="#f0e526"/>
<rect x="34.86" y="133.44" width="1.66" height="1.66" fill="#41bc72"/>
<rect x="36.22" y="133.44" width="1.66" height="1.66" fill="#74cf54"/>
<rect x="37.58" y="133.44" width="1.66" height="1.66" fill="#b5de2b"/>
<rect x="38.94" y="133.44" width="1.66" height="1.66" fill="#b7de2b"/>
<rect x="40.30" y="133.44" width="1.66" height="1.66" fill="#a6db34"/>
<rect x="41.66" y="133.44" width="1.66" height="1.66" fill="#c7e029"/>
<rect x="43.02" y="133.44" width="1.66" height="1.66" fill="#bcdf2a"/>
<rect x="44.38" y="133.44" width="1.66" height="1.66" fill="#cbe129"/>
<rect x="45.74" y="133.44" width="1.66" height="1.66" fill="#dbe328"/>
<rect x="47.10" y="133.44" width="1.66" height="1.66" fill="#c7e029"/>
<rect x="49.82" y="133.44" width="1.66" height="1.66" fill="#ece526"/>
<rect x="51.18" y="133.44" width="1.66" height="1.66" fill="#cde129"/>
<rect x="53.90" y="133.44" width="1.66" height="1.66" fill="#d9e328"/>
<rect x="57.98" y="133.44" width="1.66" height="1.66" fill="#d9e328"/>
<line x1="33.6" y1="26.2" x2="170.6" y2="26.2" stroke="#231815" stroke-width="1.35" stroke-dasharray="8.3 8.9" stroke-dashoffset="-0.8"/>
<line x1="170.6" y1="26.2" x2="170.6" y2="161.7" stroke="#231815" stroke-width="1.35" stroke-dasharray="8.3 8.5" stroke-dashoffset="4.6"/>
<line x1="33.9" y1="161.39999999999998" x2="170.6" y2="26.2" stroke="#231815" stroke-width="1.35" stroke-dasharray="9.2 9.1" stroke-dashoffset="-9.6"/>
<line x1="162.78" y1="33.94" x2="170.60" y2="26.20" stroke="#231815" stroke-width="1.35"/>
<line x1="33.6" y1="162.39999999999998" x2="33.6" y2="19.5" stroke="#231815" stroke-width="1.4"/>
<path d="M33.6,15.5 L37.7,25.3 L33.6,22.8 L29.5,25.3 Z" fill="#231815"/>
<line x1="32.9" y1="161.7" x2="177.8" y2="161.7" stroke="#231815" stroke-width="1.4"/>
<path d="M181.8,161.7 L172.0,157.6 L174.5,161.7 L172.0,165.79999999999998 Z" fill="#231815"/>
<text x="0" y="35.2" font-size="17" text-anchor="start" xml:space="preserve" textLength="31.5" lengthAdjust="spacingAndGlyphs"><tspan class="mi" dy="-0.00">k</tspan><tspan class="mr" font-size="12.24" dy="2.21">max</tspan></text>
<text x="11" y="95.3" font-size="17" class="mi">k<tspan font-size="12" dy="3">i</tspan></text>
<text x="19.6" y="165.2" font-size="20" class="mr">0</text>
<defs><linearGradient id="vg" x1="0" x2="1" y1="0" y2="0">
<stop offset="0.0000" stop-color="#fde725"/>
<stop offset="0.0625" stop-color="#d9e228"/>
<stop offset="0.1250" stop-color="#b5de2b"/>
<stop offset="0.1875" stop-color="#92d642"/>
<stop offset="0.2500" stop-color="#6ece58"/>
<stop offset="0.3125" stop-color="#52c268"/>
<stop offset="0.3750" stop-color="#35b779"/>
<stop offset="0.4375" stop-color="#2aaa81"/>
<stop offset="0.5000" stop-color="#1f9e89"/>
<stop offset="0.5625" stop-color="#22908c"/>
<stop offset="0.6250" stop-color="#26828e"/>
<stop offset="0.6875" stop-color="#2c758e"/>
<stop offset="0.7500" stop-color="#31688e"/>
<stop offset="0.8125" stop-color="#38588c"/>
<stop offset="0.8750" stop-color="#3e4989"/>
<stop offset="0.9375" stop-color="#433880"/>
<stop offset="1.0000" stop-color="#482878"/>
</linearGradient></defs>
<rect x="58" y="154" width="106.4" height="4.6" fill="url(#vg)"/>
<line x1="59.0" y1="152.3" x2="59.0" y2="154.2" stroke="#231815" stroke-width="0.6"/>
<text x="59.0" y="151.8" class="ss" font-size="8.5" text-anchor="middle">0</text>
<line x1="79.8" y1="152.3" x2="79.8" y2="154.2" stroke="#231815" stroke-width="0.6"/>
<text x="79.8" y="151.8" class="ss" font-size="8.5" text-anchor="middle">10</text>
<line x1="100.7" y1="152.3" x2="100.7" y2="154.2" stroke="#231815" stroke-width="0.6"/>
<text x="100.7" y="151.8" class="ss" font-size="8.5" text-anchor="middle">20</text>
<line x1="121.6" y1="152.3" x2="121.6" y2="154.2" stroke="#231815" stroke-width="0.6"/>
<text x="121.6" y="151.8" class="ss" font-size="8.5" text-anchor="middle">30</text>
<line x1="142.4" y1="152.3" x2="142.4" y2="154.2" stroke="#231815" stroke-width="0.6"/>
<text x="142.4" y="151.8" class="ss" font-size="8.5" text-anchor="middle">40</text>
<line x1="163.2" y1="152.3" x2="163.2" y2="154.2" stroke="#231815" stroke-width="0.6"/>
<text x="163.2" y="151.8" class="ss" font-size="8.5" text-anchor="middle">50</text>
<text x="91.5" y="139.3" class="ss" font-size="11.5"># of</text>
<text x="115" y="139.3" font-size="15" text-anchor="start" xml:space="preserve" textLength="15.4" lengthAdjust="spacingAndGlyphs"><tspan class="mi" dy="-0.00">e</tspan><tspan class="mi" font-size="10.50" dy="3.00">ij</tspan></text>
<line x1="203" y1="74.8" x2="230.4" y2="74.5" stroke="#5b5050" stroke-width="1.3"/>
<line x1="203" y1="74.8" x2="191" y2="57.2" stroke="#3e3535" stroke-width="1.1"/>
<line x1="203" y1="74.8" x2="181.5" y2="67.7" stroke="#3e3535" stroke-width="1.1"/>
<line x1="203" y1="74.8" x2="181.5" y2="80.3" stroke="#3e3535" stroke-width="1.1"/>
<line x1="203" y1="74.8" x2="191" y2="91.3" stroke="#3e3535" stroke-width="1.1"/>
<line x1="230.4" y1="74.5" x2="242.2" y2="63" stroke="#3e3535" stroke-width="1.1"/>
<line x1="230.4" y1="74.5" x2="242.2" y2="86" stroke="#3e3535" stroke-width="1.1"/>
<circle cx="191" cy="57.2" r="5.4" fill="#d6d600"/>
<circle cx="181.5" cy="67.7" r="5.4" fill="#d6d600"/>
<circle cx="181.5" cy="80.3" r="5.4" fill="#d6d600"/>
<circle cx="191" cy="91.3" r="5.4" fill="#d6d600"/>
<circle cx="242.2" cy="63" r="5.4" fill="#d6d600"/>
<circle cx="242.2" cy="86" r="5.4" fill="#d6d600"/>
<circle cx="203" cy="74.8" r="9.4" fill="#d6d600"/>
<circle cx="230.4" cy="74.5" r="6.8" fill="#d6d600"/>
<text x="202.8" y="81.2" class="mi ij" font-size="19.5" text-anchor="middle">i</text>
<text x="231.0" y="77.9" class="mi ij" font-size="15" text-anchor="middle">j</text>
<line x1="218.4" y1="96.5" x2="218.4" y2="81.4" stroke="#231815" stroke-width="0.95"/>
<path d="M218.4,78.4 L220.4,83.60000000000001 L218.4,82.4 L216.4,83.60000000000001 Z" fill="#231815"/>
<text x="176.8" y="108.7" font-size="15.5" text-anchor="start" xml:space="preserve" textLength="74.2" lengthAdjust="spacingAndGlyphs"><tspan class="mi" dy="-0.00">e</tspan><tspan class="mi" font-size="11.16" dy="3.10">ij</tspan><tspan class="mr" dy="-3.10"> = (</tspan><tspan class="mi" dy="-0.00">k</tspan><tspan class="mi" font-size="11.16" dy="3.10">i</tspan><tspan class="mr" dy="-3.10">, </tspan><tspan class="mi" dy="-0.00">k</tspan><tspan class="mi" font-size="11.16" dy="3.10">j</tspan><tspan class="mr" dy="-3.10">)</tspan></text>
<text x="195" y="129" font-size="15.5" text-anchor="start" xml:space="preserve" textLength="44.8" lengthAdjust="spacingAndGlyphs"><tspan class="mr" dy="-0.00">= (5, 3)</tspan></text>
<text x="258" y="17" class="ss" font-size="16.3" textLength="20.8" lengthAdjust="spacingAndGlyphs">(b)</text>
<polygon points="284.9,159.3 284.9,22.7 368.8,22.7" fill="#4daf4a"/>
<polygon points="284.9,159.3 368.8,22.7 421.4,22.7" fill="#ff7f00"/>
<line x1="284.9" y1="159.3" x2="368.8" y2="22.7" stroke="#231815" stroke-width="1.4"/>
<line x1="284.9" y1="22.7" x2="421.4" y2="22.7" stroke="#231815" stroke-width="1.35" stroke-dasharray="8.3 9.2" stroke-dashoffset="1.4"/>
<line x1="421.4" y1="22.7" x2="421.4" y2="159.3" stroke="#231815" stroke-width="1.35" stroke-dasharray="8.3 8.5" stroke-dashoffset="4.6"/>
<line x1="285.2" y1="159.0" x2="421.4" y2="22.7" stroke="#231815" stroke-width="1.35" stroke-dasharray="9.2 9.1" stroke-dashoffset="-8.0"/>
<line x1="413.62" y1="30.48" x2="421.40" y2="22.70" stroke="#231815" stroke-width="1.35"/>
<line x1="284.9" y1="159.9" x2="284.9" y2="15.5" stroke="#231815" stroke-width="1.2"/>
<path d="M284.9,11.5 L289.0,21.3 L284.9,18.8 L280.79999999999995,21.3 Z" fill="#231815"/>
<line x1="284.29999999999995" y1="159.3" x2="428" y2="159.3" stroke="#231815" stroke-width="1.2"/>
<path d="M432,159.3 L422.2,155.20000000000002 L424.7,159.3 L422.2,163.4 Z" fill="#231815"/>
<text x="351.4" y="14.9" font-size="15.5" text-anchor="start" xml:space="preserve" textLength="60.3" lengthAdjust="spacingAndGlyphs"><tspan class="mi" dy="-0.00">k</tspan><tspan class="mi" font-size="11.16" dy="3.10">i</tspan><tspan class="mr" dy="-3.10">/</tspan><tspan class="mi" dy="-0.00">k</tspan><tspan class="mi" font-size="11.16" dy="3.10">j</tspan><tspan class="mr" dy="-3.10"> = </tspan><tspan class="mi" dy="-0.00">τ</tspan></text>
<text x="305.4" y="64.9" font-size="17" text-anchor="start" xml:space="preserve"><tspan class="mi" dy="-0.00">E</tspan><tspan class="mr" font-size="11.05" dy="2.21">1</tspan></text>
<text x="357.2" y="64.9" font-size="17" text-anchor="start" xml:space="preserve"><tspan class="mi" dy="-0.00">E</tspan><tspan class="mr" font-size="11.05" dy="2.21">2</tspan></text>
<line x1="452.8" y1="42.6" x2="481" y2="42.2" stroke="#5b5050" stroke-width="1.3"/>
<line x1="452.8" y1="42.6" x2="452.8" y2="21" stroke="#3e3535" stroke-width="1.1"/>
<line x1="452.8" y1="42.6" x2="438.3" y2="26.8" stroke="#3e3535" stroke-width="1.1"/>
<line x1="452.8" y1="42.6" x2="429.7" y2="42.2" stroke="#3e3535" stroke-width="1.1"/>
<line x1="452.8" y1="42.6" x2="435.5" y2="55.9" stroke="#3e3535" stroke-width="1.1"/>
<line x1="452.8" y1="42.6" x2="452.8" y2="61.7" stroke="#3e3535" stroke-width="1.1"/>
<line x1="481" y1="42.2" x2="500.8" y2="42.2" stroke="#3e3535" stroke-width="1.1"/>
<circle cx="452.8" cy="21" r="5.3" fill="#4daf4a"/>
<circle cx="438.3" cy="26.8" r="5.3" fill="#4daf4a"/>
<circle cx="429.7" cy="42.2" r="5.3" fill="#4daf4a"/>
<circle cx="435.5" cy="55.9" r="5.3" fill="#4daf4a"/>
<circle cx="452.8" cy="61.7" r="5.3" fill="#4daf4a"/>
<circle cx="500.8" cy="42.2" r="5.3" fill="#4daf4a"/>
<circle cx="452.8" cy="42.6" r="9.6" fill="#4daf4a"/>
<circle cx="481" cy="42.2" r="7" fill="#4daf4a"/>
<text x="452.6" y="49.0" class="mi ij" font-size="19.5" text-anchor="middle">i</text>
<text x="481.6" y="45.6" class="mi ij" font-size="15" text-anchor="middle">j</text>
<line x1="468.1" y1="67" x2="468.1" y2="50.9" stroke="#231815" stroke-width="0.95"/>
<path d="M468.1,47.9 L470.1,53.1 L468.1,51.9 L466.1,53.1 Z" fill="#231815"/>
<text x="437.6" y="80" font-size="14.3" text-anchor="start" xml:space="preserve" textLength="57.4" lengthAdjust="spacingAndGlyphs"><tspan class="mi" dy="-0.00">k</tspan><tspan class="mi" font-size="10.30" dy="2.86">i</tspan><tspan class="mr" dy="-2.86">/</tspan><tspan class="mi" dy="-0.00">k</tspan><tspan class="mi" font-size="10.30" dy="2.86">j</tspan><tspan class="mr" dy="-2.86"> ≥ </tspan><tspan class="mi" dy="-0.00">τ</tspan></text>
<line x1="453.9" y1="116.9" x2="482.1" y2="116.5" stroke="#5b5050" stroke-width="1.3"/>
<line x1="453.9" y1="116.9" x2="441.8" y2="99.5" stroke="#3e3535" stroke-width="1.1"/>
<line x1="453.9" y1="116.9" x2="432.5" y2="110" stroke="#3e3535" stroke-width="1.1"/>
<line x1="453.9" y1="116.9" x2="432.5" y2="122.8" stroke="#3e3535" stroke-width="1.1"/>
<line x1="453.9" y1="116.9" x2="441.8" y2="133.5" stroke="#3e3535" stroke-width="1.1"/>
<line x1="482.1" y1="116.5" x2="493.6" y2="102.5" stroke="#3e3535" stroke-width="1.1"/>
<line x1="482.1" y1="116.5" x2="502.4" y2="117" stroke="#3e3535" stroke-width="1.1"/>
<line x1="482.1" y1="116.5" x2="493.6" y2="131" stroke="#3e3535" stroke-width="1.1"/>
<circle cx="441.8" cy="99.5" r="5.3" fill="#ff7f00"/>
<circle cx="432.5" cy="110" r="5.3" fill="#ff7f00"/>
<circle cx="432.5" cy="122.8" r="5.3" fill="#ff7f00"/>
<circle cx="441.8" cy="133.5" r="5.3" fill="#ff7f00"/>
<circle cx="493.6" cy="102.5" r="5.3" fill="#ff7f00"/>
<circle cx="502.4" cy="117" r="5.3" fill="#ff7f00"/>
<circle cx="493.6" cy="131" r="5.3" fill="#ff7f00"/>
<circle cx="453.9" cy="116.9" r="9.6" fill="#ff7f00"/>
<circle cx="482.1" cy="116.5" r="7" fill="#ff7f00"/>
<text x="453.7" y="123.30000000000001" class="mi ij" font-size="19.5" text-anchor="middle">i</text>
<text x="482.70000000000005" y="119.9" class="mi ij" font-size="15" text-anchor="middle">j</text>
<line x1="469" y1="141" x2="469" y2="125.4" stroke="#231815" stroke-width="0.95"/>
<path d="M469,122.4 L471.0,127.60000000000001 L469,126.4 L467.0,127.60000000000001 Z" fill="#231815"/>
<text x="439" y="149" font-size="14.3" text-anchor="start" xml:space="preserve" textLength="56" lengthAdjust="spacingAndGlyphs"><tspan class="mi" dy="-0.00">k</tspan><tspan class="mi" font-size="10.30" dy="2.86">i</tspan><tspan class="mr" dy="-2.86">/</tspan><tspan class="mi" dy="-0.00">k</tspan><tspan class="mi" font-size="10.30" dy="2.86">j</tspan><tspan class="mr" dy="-2.86"> &lt; </tspan><tspan class="mi" dy="-0.00">τ</tspan></text>
<text x="-0.6" y="177" class="ss" font-size="16.3" textLength="19.2" lengthAdjust="spacingAndGlyphs">(c)</text>
<polygon points="35.7,183.9 172.6,183.9 77,279.6 35.7,279.6" fill="#e41a1c"/>
<polygon points="35.7,279.6 77,279.6 35.7,320.6" fill="#377eb8"/>
<line x1="35.7" y1="279.6" x2="77" y2="279.6" stroke="#231815" stroke-width="1.2"/>
<line x1="35.7" y1="183.9" x2="172.6" y2="183.9" stroke="#231815" stroke-width="1.35" stroke-dasharray="8.3 9.2" stroke-dashoffset="0.2"/>
<line x1="172.6" y1="183.9" x2="172.6" y2="320.6" stroke="#231815" stroke-width="1.35" stroke-dasharray="8.3 8.5" stroke-dashoffset="4.6"/>
<line x1="36.0" y1="320.3" x2="172.6" y2="183.9" stroke="#231815" stroke-width="1.35" stroke-dasharray="9.2 9.1" stroke-dashoffset="-8.0"/>
<line x1="164.82" y1="191.67" x2="172.60" y2="183.90" stroke="#231815" stroke-width="1.35"/>
<line x1="35.7" y1="321.20000000000005" x2="35.7" y2="177.5" stroke="#231815" stroke-width="1.2"/>
<path d="M35.7,173.5 L39.800000000000004,183.3 L35.7,180.8 L31.6,183.3 Z" fill="#231815"/>
<line x1="35.1" y1="320.6" x2="179" y2="320.6" stroke="#231815" stroke-width="1.2"/>
<path d="M183,320.6 L173.2,316.5 L175.7,320.6 L173.2,324.70000000000005 Z" fill="#231815"/>
<text x="0" y="197.3" font-size="17" text-anchor="start" xml:space="preserve" textLength="31.5" lengthAdjust="spacingAndGlyphs"><tspan class="mi" dy="-0.00">k</tspan><tspan class="mr" font-size="12.24" dy="2.21">max</tspan></text>
<text x="11" y="251.7" font-size="17" class="mi">k<tspan font-size="12" dy="3">i</tspan></text>
<text x="20.8" y="334.8" font-size="20" class="mr">0</text>
<text x="99.8" y="337.3" font-size="17" class="mi">k<tspan font-size="12" dy="3">j</tspan></text>
<text x="151" y="335" font-size="17" text-anchor="start" xml:space="preserve" textLength="32" lengthAdjust="spacingAndGlyphs"><tspan class="mi" dy="-0.00">k</tspan><tspan class="mr" font-size="12.24" dy="2.21">max</tspan></text>
<text x="67.8" y="235" font-size="17" text-anchor="start" xml:space="preserve"><tspan class="mi" dy="-0.00">E</tspan><tspan class="mr" font-size="11.05" dy="2.21">3</tspan></text>
<text x="37.2" y="296" font-size="17" text-anchor="start" xml:space="preserve"><tspan class="mi" dy="-0.00">E</tspan><tspan class="mr" font-size="11.05" dy="2.21">4</tspan></text>
<text x="90.1" y="281.2" font-size="15" text-anchor="start" xml:space="preserve" textLength="79" lengthAdjust="spacingAndGlyphs"><tspan class="mi" dy="-0.00">k</tspan><tspan class="mi" font-size="10.80" dy="3.00">i</tspan><tspan class="mr" dy="-3.00"> = </tspan><tspan class="mi" dy="-0.00">k</tspan><tspan class="mr" font-size="10.80" dy="3.00">max</tspan><tspan class="mr" dy="-3.00">/</tspan><tspan class="mi" dy="-0.00">ρ</tspan></text>
<line x1="203.3" y1="203.7" x2="230.4" y2="203.4" stroke="#5b5050" stroke-width="1.3"/>
<line x1="203.3" y1="203.7" x2="203" y2="182.4" stroke="#3e3535" stroke-width="1.1"/>
<line x1="203.3" y1="203.7" x2="189" y2="188" stroke="#3e3535" stroke-width="1.1"/>
<line x1="203.3" y1="203.7" x2="180.9" y2="202.6" stroke="#3e3535" stroke-width="1.1"/>
<line x1="203.3" y1="203.7" x2="186.7" y2="216.6" stroke="#3e3535" stroke-width="1.1"/>
<line x1="203.3" y1="203.7" x2="203" y2="222.9" stroke="#3e3535" stroke-width="1.1"/>
<line x1="230.4" y1="203.4" x2="241.9" y2="189.8" stroke="#3e3535" stroke-width="1.1"/>
<line x1="230.4" y1="203.4" x2="250.8" y2="203.3" stroke="#3e3535" stroke-width="1.1"/>
<line x1="230.4" y1="203.4" x2="241.9" y2="217.8" stroke="#3e3535" stroke-width="1.1"/>
<circle cx="203" cy="182.4" r="5.3" fill="#e41a1c"/>
<circle cx="189" cy="188" r="5.3" fill="#e41a1c"/>
<circle cx="180.9" cy="202.6" r="5.3" fill="#e41a1c"/>
<circle cx="186.7" cy="216.6" r="5.3" fill="#e41a1c"/>
<circle cx="203" cy="222.9" r="5.3" fill="#e41a1c"/>
<circle cx="241.9" cy="189.8" r="5.3" fill="#e41a1c"/>
<circle cx="250.8" cy="203.3" r="5.3" fill="#e41a1c"/>
<circle cx="241.9" cy="217.8" r="5.3" fill="#e41a1c"/>
<circle cx="203.3" cy="203.7" r="9.4" fill="#e41a1c"/>
<circle cx="230.4" cy="203.4" r="6.6" fill="#e41a1c"/>
<text x="203.10000000000002" y="210.1" class="mi ij" font-size="19.5" text-anchor="middle">i</text>
<text x="231.0" y="206.8" class="mi ij" font-size="15" text-anchor="middle">j</text>
<line x1="220.2" y1="226" x2="220.2" y2="210.9" stroke="#231815" stroke-width="0.95"/>
<path d="M220.2,207.9 L222.2,213.1 L220.2,211.9 L218.2,213.1 Z" fill="#231815"/>
<text x="184.8" y="240" font-size="14.3" text-anchor="start" xml:space="preserve" textLength="72.2" lengthAdjust="spacingAndGlyphs"><tspan class="mi" dy="-0.00">k</tspan><tspan class="mi" font-size="10.30" dy="2.86">i</tspan><tspan class="mr" dy="-2.86"> ≥ </tspan><tspan class="mi" dy="-0.00">k</tspan><tspan class="mr" font-size="10.30" dy="2.86">max</tspan><tspan class="mr" dy="-2.86">/</tspan><tspan class="mi" dy="-0.00">ρ</tspan></text>
<line x1="203.5" y1="275.3" x2="233.3" y2="275.3" stroke="#5b5050" stroke-width="1.3"/>
<line x1="203.5" y1="275.3" x2="190" y2="263" stroke="#3e3535" stroke-width="1.1"/>
<line x1="203.5" y1="275.3" x2="190" y2="288.1" stroke="#3e3535" stroke-width="1.1"/>
<line x1="233.3" y1="275.3" x2="247" y2="263" stroke="#3e3535" stroke-width="1.1"/>
<line x1="233.3" y1="275.3" x2="247" y2="288.1" stroke="#3e3535" stroke-width="1.1"/>
<circle cx="190" cy="263" r="5.7" fill="#377eb8"/>
<circle cx="190" cy="288.1" r="5.7" fill="#377eb8"/>
<circle cx="247" cy="263" r="5.7" fill="#377eb8"/>
<circle cx="247" cy="288.1" r="5.7" fill="#377eb8"/>
<circle cx="203.5" cy="275.3" r="7" fill="#377eb8"/>
<circle cx="233.3" cy="275.3" r="7" fill="#377eb8"/>
<text x="203.3" y="280.7" class="mi ij" font-size="17.5" text-anchor="middle">i</text>
<text x="233.9" y="278.7" class="mi ij" font-size="15" text-anchor="middle">j</text>
<line x1="218.6" y1="297.4" x2="218.6" y2="282.4" stroke="#231815" stroke-width="0.95"/>
<path d="M218.6,279.4 L220.6,284.59999999999997 L218.6,283.4 L216.6,284.59999999999997 Z" fill="#231815"/>
<text x="180.9" y="309" font-size="14.3" text-anchor="start" xml:space="preserve" textLength="73.8" lengthAdjust="spacingAndGlyphs"><tspan class="mi" dy="-0.00">k</tspan><tspan class="mi" font-size="10.30" dy="2.86">i</tspan><tspan class="mr" dy="-2.86"> &lt; </tspan><tspan class="mi" dy="-0.00">k</tspan><tspan class="mr" font-size="10.30" dy="2.86">max</tspan><tspan class="mr" dy="-2.86">/</tspan><tspan class="mi" dy="-0.00">ρ</tspan></text>
<text x="258" y="177" class="ss" font-size="16.3" textLength="20.8" lengthAdjust="spacingAndGlyphs">(d)</text>
<polygon points="285.15,318 311.2,277 326.3,277" fill="#984ea3"/>
<line x1="285.15" y1="318" x2="370.6" y2="181.3" stroke="#231815" stroke-width="1.4"/>
<line x1="285.15" y1="277" x2="327" y2="277" stroke="#231815" stroke-width="1.3"/>
<line x1="285.15" y1="181.3" x2="421.5" y2="181.3" stroke="#231815" stroke-width="1.35" stroke-dasharray="8.3 9.2" stroke-dashoffset="0"/>
<line x1="421.5" y1="181.3" x2="421.5" y2="318" stroke="#231815" stroke-width="1.35" stroke-dasharray="8.3 8.5" stroke-dashoffset="4.9"/>
<line x1="285.45" y1="317.7" x2="421.5" y2="181.3" stroke="#231815" stroke-width="1.35" stroke-dasharray="9.2 9.1" stroke-dashoffset="-5.8"/>
<line x1="413.73" y1="189.09" x2="421.50" y2="181.30" stroke="#231815" stroke-width="1.35"/>
<line x1="285.15" y1="318.85" x2="285.15" y2="175" stroke="#231815" stroke-width="1.7"/>
<path d="M285.15,171 L289.25,180.8 L285.15,178.3 L281.04999999999995,180.8 Z" fill="#231815"/>
<line x1="284.29999999999995" y1="318" x2="428.8" y2="318" stroke="#231815" stroke-width="1.7"/>
<path d="M432.8,318 L423.0,313.9 L425.5,318 L423.0,322.1 Z" fill="#231815"/>
<text x="273.6" y="332.3" font-size="20" class="mr">0</text>
<text x="352.3" y="337" font-size="17" class="mi">k<tspan font-size="12" dy="3">j</tspan></text>
<text x="410.5" y="333.6" font-size="17" text-anchor="start" xml:space="preserve" textLength="32" lengthAdjust="spacingAndGlyphs"><tspan class="mi" dy="-0.00">k</tspan><tspan class="mr" font-size="12.24" dy="2.21">max</tspan></text>
<text x="314" y="304" font-size="17" text-anchor="start" xml:space="preserve" textLength="19.4" lengthAdjust="spacingAndGlyphs"><tspan class="mi" dy="-0.00">E</tspan><tspan class="mi" font-size="11.05" dy="2.21">S</tspan></text>
<text x="339" y="304" font-size="17" text-anchor="start" xml:space="preserve" textLength="12.7" lengthAdjust="spacingAndGlyphs"><tspan class="mr" dy="-0.00">=</tspan></text>
<text x="357.4" y="304" font-size="17" text-anchor="start" xml:space="preserve" textLength="16.4" lengthAdjust="spacingAndGlyphs"><tspan class="mi" dy="-0.00">E</tspan><tspan class="mr" font-size="11.05" dy="2.21">2</tspan></text>
<path d="M380.2,304.2 V300.2 a4.3,4.4 0 0 1 8.6,0 V304.2" fill="none" stroke="#231815" stroke-width="1.05"/>
<text x="395" y="304" font-size="17" text-anchor="start" xml:space="preserve" textLength="17" lengthAdjust="spacingAndGlyphs"><tspan class="mi" dy="-0.00">E</tspan><tspan class="mr" font-size="11.05" dy="2.21">4</tspan></text>
<line x1="431.8" y1="236.8" x2="506" y2="236.8" stroke="#3e3535" stroke-width="1.1"/>
<circle cx="431.8" cy="236.8" r="5.6" fill="#984ea3"/>
<circle cx="454.2" cy="236.8" r="7.2" fill="#984ea3"/>
<circle cx="485" cy="236.8" r="7.2" fill="#984ea3"/>
<circle cx="506" cy="236.8" r="5.6" fill="#984ea3"/>
<text x="454" y="242.2" class="mi ij" font-size="17.5" text-anchor="middle">i</text>
<text x="485.6" y="240.2" class="mi ij" font-size="15" text-anchor="middle">j</text>
<line x1="469.8" y1="260" x2="469.8" y2="243.9" stroke="#231815" stroke-width="0.95"/>
<path d="M469.8,240.9 L471.8,246.1 L469.8,244.9 L467.8,246.1 Z" fill="#231815"/>
<text x="434.3" y="273.5" font-size="14.3" text-anchor="start" xml:space="preserve" textLength="72.7" lengthAdjust="spacingAndGlyphs"><tspan class="mi" dy="-0.00">k</tspan><tspan class="mi" font-size="10.30" dy="2.86">i</tspan><tspan class="mr" dy="-2.86"> &lt; </tspan><tspan class="mi" dy="-0.00">k</tspan><tspan class="mr" font-size="10.30" dy="2.86">max</tspan><tspan class="mr" dy="-2.86">/</tspan><tspan class="mi" dy="-0.00">ρ</tspan></text>
<text x="441.8" y="292.1" font-size="14.3" text-anchor="start" xml:space="preserve" textLength="55.2" lengthAdjust="spacingAndGlyphs"><tspan class="mi" dy="-0.00">k</tspan><tspan class="mi" font-size="10.30" dy="2.86">i</tspan><tspan class="mr" dy="-2.86">/</tspan><tspan class="mi" dy="-0.00">k</tspan><tspan class="mi" font-size="10.30" dy="2.86">j</tspan><tspan class="mr" dy="-2.86"> &lt; </tspan><tspan class="mi" dy="-0.00">τ</tspan></text>
<text x="525.6" y="16.6" class="ss" font-size="16.5" textLength="21" lengthAdjust="spacingAndGlyphs">(e)</text>
<g clip-path="url(#pc)">
<defs><clipPath id="pc"><rect x="566" y="29" width="263.79999999999995" height="278.5"/></clipPath></defs>
<polyline points="578.3,45.0 594.4,45.0 610.4,45.0 626.4,45.0 642.5,46.2 658.5,51.2 674.6,63.5 690.6,234.7 706.7,291.3 722.8,291.3 738.8,291.3 754.8,291.3 770.9,291.3 786.9,291.3 803.0,291.3 819.0,291.3" fill="none" stroke="#000000" stroke-width="1.8" stroke-linejoin="round"/>
<rect x="575.3" y="42.0" width="6" height="6" fill="none" stroke="#000000" stroke-width="1.6"/>
<rect x="591.4" y="42.0" width="6" height="6" fill="none" stroke="#000000" stroke-width="1.6"/>
<rect x="607.4" y="42.0" width="6" height="6" fill="none" stroke="#000000" stroke-width="1.6"/>
<rect x="623.4" y="42.0" width="6" height="6" fill="none" stroke="#000000" stroke-width="1.6"/>
<rect x="639.5" y="43.2" width="6" height="6" fill="none" stroke="#000000" stroke-width="1.6"/>
<rect x="655.5" y="48.2" width="6" height="6" fill="none" stroke="#000000" stroke-width="1.6"/>
<rect x="671.6" y="60.5" width="6" height="6" fill="none" stroke="#000000" stroke-width="1.6"/>
<rect x="687.6" y="231.7" width="6" height="6" fill="none" stroke="#000000" stroke-width="1.6"/>
<rect x="703.7" y="288.3" width="6" height="6" fill="none" stroke="#000000" stroke-width="1.6"/>
<rect x="719.8" y="288.3" width="6" height="6" fill="none" stroke="#000000" stroke-width="1.6"/>
<rect x="735.8" y="288.3" width="6" height="6" fill="none" stroke="#000000" stroke-width="1.6"/>
<rect x="751.8" y="288.3" width="6" height="6" fill="none" stroke="#000000" stroke-width="1.6"/>
<rect x="767.9" y="288.3" width="6" height="6" fill="none" stroke="#000000" stroke-width="1.6"/>
<rect x="783.9" y="288.3" width="6" height="6" fill="none" stroke="#000000" stroke-width="1.6"/>
<rect x="800.0" y="288.3" width="6" height="6" fill="none" stroke="#000000" stroke-width="1.6"/>
<rect x="816.0" y="288.3" width="6" height="6" fill="none" stroke="#000000" stroke-width="1.6"/>
<polyline points="578.3,45.0 594.4,45.0 610.4,45.0 626.4,45.0 642.5,46.2 658.5,52.4 674.6,149.7 690.6,288.8 706.7,291.3 722.8,291.3 738.8,291.3 754.8,291.3 770.9,291.3 786.9,291.3 803.0,291.3 819.0,291.3" fill="none" stroke="#4daf4a" stroke-width="1.8" stroke-linejoin="round"/>
<circle cx="578.3" cy="45.0" r="3.15" fill="none" stroke="#4daf4a" stroke-width="1.6"/>
<circle cx="594.4" cy="45.0" r="3.15" fill="none" stroke="#4daf4a" stroke-width="1.6"/>
<circle cx="610.4" cy="45.0" r="3.15" fill="none" stroke="#4daf4a" stroke-width="1.6"/>
<circle cx="626.4" cy="45.0" r="3.15" fill="none" stroke="#4daf4a" stroke-width="1.6"/>
<circle cx="642.5" cy="46.2" r="3.15" fill="none" stroke="#4daf4a" stroke-width="1.6"/>
<circle cx="658.5" cy="52.4" r="3.15" fill="none" stroke="#4daf4a" stroke-width="1.6"/>
<circle cx="674.6" cy="149.7" r="3.15" fill="none" stroke="#4daf4a" stroke-width="1.6"/>
<circle cx="690.6" cy="288.8" r="3.15" fill="none" stroke="#4daf4a" stroke-width="1.6"/>
<circle cx="706.7" cy="291.3" r="3.15" fill="none" stroke="#4daf4a" stroke-width="1.6"/>
<circle cx="722.8" cy="291.3" r="3.15" fill="none" stroke="#4daf4a" stroke-width="1.6"/>
<circle cx="738.8" cy="291.3" r="3.15" fill="none" stroke="#4daf4a" stroke-width="1.6"/>
<circle cx="754.8" cy="291.3" r="3.15" fill="none" stroke="#4daf4a" stroke-width="1.6"/>
<circle cx="770.9" cy="291.3" r="3.15" fill="none" stroke="#4daf4a" stroke-width="1.6"/>
<circle cx="786.9" cy="291.3" r="3.15" fill="none" stroke="#4daf4a" stroke-width="1.6"/>
<circle cx="803.0" cy="291.3" r="3.15" fill="none" stroke="#4daf4a" stroke-width="1.6"/>
<circle cx="819.0" cy="291.3" r="3.15" fill="none" stroke="#4daf4a" stroke-width="1.6"/>
<polyline points="578.3,45.0 594.4,45.0 610.4,45.0 626.4,45.0 642.5,46.2 658.5,52.4 674.6,54.9 690.6,68.4 706.7,75.8 722.8,110.3 738.8,285.1 754.8,291.3 770.9,291.3 786.9,291.3 803.0,291.3 819.0,291.3" fill="none" stroke="#ff7f00" stroke-width="1.8" stroke-linejoin="round"/>
<circle cx="578.3" cy="45.0" r="3.15" fill="none" stroke="#ff7f00" stroke-width="1.6"/>
<circle cx="594.4" cy="45.0" r="3.15" fill="none" stroke="#ff7f00" stroke-width="1.6"/>
<circle cx="610.4" cy="45.0" r="3.15" fill="none" stroke="#ff7f00" stroke-width="1.6"/>
<circle cx="626.4" cy="45.0" r="3.15" fill="none" stroke="#ff7f00" stroke-width="1.6"/>
<circle cx="642.5" cy="46.2" r="3.15" fill="none" stroke="#ff7f00" stroke-width="1.6"/>
<circle cx="658.5" cy="52.4" r="3.15" fill="none" stroke="#ff7f00" stroke-width="1.6"/>
<circle cx="674.6" cy="54.9" r="3.15" fill="none" stroke="#ff7f00" stroke-width="1.6"/>
<circle cx="690.6" cy="68.4" r="3.15" fill="none" stroke="#ff7f00" stroke-width="1.6"/>
<circle cx="706.7" cy="75.8" r="3.15" fill="none" stroke="#ff7f00" stroke-width="1.6"/>
<circle cx="722.8" cy="110.3" r="3.15" fill="none" stroke="#ff7f00" stroke-width="1.6"/>
<circle cx="738.8" cy="285.1" r="3.15" fill="none" stroke="#ff7f00" stroke-width="1.6"/>
<circle cx="754.8" cy="291.3" r="3.15" fill="none" stroke="#ff7f00" stroke-width="1.6"/>
<circle cx="770.9" cy="291.3" r="3.15" fill="none" stroke="#ff7f00" stroke-width="1.6"/>
<circle cx="786.9" cy="291.3" r="3.15" fill="none" stroke="#ff7f00" stroke-width="1.6"/>
<circle cx="803.0" cy="291.3" r="3.15" fill="none" stroke="#ff7f00" stroke-width="1.6"/>
<circle cx="819.0" cy="291.3" r="3.15" fill="none" stroke="#ff7f00" stroke-width="1.6"/>
<polyline points="578.3,45.0 594.4,45.0 610.4,45.0 626.4,48.7 642.5,48.7 658.5,102.9 674.6,251.9 690.6,290.1 706.7,291.3 722.8,291.3 738.8,291.3 754.8,291.3 770.9,291.3 786.9,291.3 803.0,291.3 819.0,291.3" fill="none" stroke="#e41a1c" stroke-width="1.8" stroke-linejoin="round"/>
<path d="M578.3,40.7 L582.3,47.6 L574.3,47.6 Z" fill="none" stroke="#e41a1c" stroke-width="1.6" stroke-linejoin="miter"/>
<path d="M594.4,40.7 L598.4,47.6 L590.4,47.6 Z" fill="none" stroke="#e41a1c" stroke-width="1.6" stroke-linejoin="miter"/>
<path d="M610.4,40.7 L614.4,47.6 L606.4,47.6 Z" fill="none" stroke="#e41a1c" stroke-width="1.6" stroke-linejoin="miter"/>
<path d="M626.4,44.4 L630.4,51.3 L622.4,51.3 Z" fill="none" stroke="#e41a1c" stroke-width="1.6" stroke-linejoin="miter"/>
<path d="M642.5,44.4 L646.5,51.3 L638.5,51.3 Z" fill="none" stroke="#e41a1c" stroke-width="1.6" stroke-linejoin="miter"/>
<path d="M658.5,98.6 L662.5,105.5 L654.5,105.5 Z" fill="none" stroke="#e41a1c" stroke-width="1.6" stroke-linejoin="miter"/>
<path d="M674.6,247.6 L678.6,254.5 L670.6,254.5 Z" fill="none" stroke="#e41a1c" stroke-width="1.6" stroke-linejoin="miter"/>
<path d="M690.6,285.8 L694.6,292.7 L686.6,292.7 Z" fill="none" stroke="#e41a1c" stroke-width="1.6" stroke-linejoin="miter"/>
<path d="M706.7,287.0 L710.7,293.9 L702.7,293.9 Z" fill="none" stroke="#e41a1c" stroke-width="1.6" stroke-linejoin="miter"/>
<path d="M722.8,287.0 L726.8,293.9 L718.8,293.9 Z" fill="none" stroke="#e41a1c" stroke-width="1.6" stroke-linejoin="miter"/>
<path d="M738.8,287.0 L742.8,293.9 L734.8,293.9 Z" fill="none" stroke="#e41a1c" stroke-width="1.6" stroke-linejoin="miter"/>
<path d="M754.8,287.0 L758.8,293.9 L750.8,293.9 Z" fill="none" stroke="#e41a1c" stroke-width="1.6" stroke-linejoin="miter"/>
<path d="M770.9,287.0 L774.9,293.9 L766.9,293.9 Z" fill="none" stroke="#e41a1c" stroke-width="1.6" stroke-linejoin="miter"/>
<path d="M786.9,287.0 L790.9,293.9 L782.9,293.9 Z" fill="none" stroke="#e41a1c" stroke-width="1.6" stroke-linejoin="miter"/>
<path d="M803.0,287.0 L807.0,293.9 L799.0,293.9 Z" fill="none" stroke="#e41a1c" stroke-width="1.6" stroke-linejoin="miter"/>
<path d="M819.0,287.0 L823.0,293.9 L815.0,293.9 Z" fill="none" stroke="#e41a1c" stroke-width="1.6" stroke-linejoin="miter"/>
<polyline points="578.3,45.0 594.4,45.0 610.4,45.0 626.4,45.0 642.5,45.0 658.5,47.5 674.6,53.6 690.6,72.1 706.7,211.3 722.8,291.3 738.8,291.3 754.8,291.3 770.9,291.3 786.9,291.3 803.0,291.3 819.0,291.3" fill="none" stroke="#377eb8" stroke-width="1.8" stroke-linejoin="round"/>
<path d="M578.3,40.7 L582.3,47.6 L574.3,47.6 Z" fill="none" stroke="#377eb8" stroke-width="1.6" stroke-linejoin="miter"/>
<path d="M594.4,40.7 L598.4,47.6 L590.4,47.6 Z" fill="none" stroke="#377eb8" stroke-width="1.6" stroke-linejoin="miter"/>
<path d="M610.4,40.7 L614.4,47.6 L606.4,47.6 Z" fill="none" stroke="#377eb8" stroke-width="1.6" stroke-linejoin="miter"/>
<path d="M626.4,40.7 L630.4,47.6 L622.4,47.6 Z" fill="none" stroke="#377eb8" stroke-width="1.6" stroke-linejoin="miter"/>
<path d="M642.5,40.7 L646.5,47.6 L638.5,47.6 Z" fill="none" stroke="#377eb8" stroke-width="1.6" stroke-linejoin="miter"/>
<path d="M658.5,43.2 L662.5,50.1 L654.5,50.1 Z" fill="none" stroke="#377eb8" stroke-width="1.6" stroke-linejoin="miter"/>
<path d="M674.6,49.3 L678.6,56.2 L670.6,56.2 Z" fill="none" stroke="#377eb8" stroke-width="1.6" stroke-linejoin="miter"/>
<path d="M690.6,67.8 L694.6,74.7 L686.6,74.7 Z" fill="none" stroke="#377eb8" stroke-width="1.6" stroke-linejoin="miter"/>
<path d="M706.7,207.0 L710.7,213.9 L702.7,213.9 Z" fill="none" stroke="#377eb8" stroke-width="1.6" stroke-linejoin="miter"/>
<path d="M722.8,287.0 L726.8,293.9 L718.8,293.9 Z" fill="none" stroke="#377eb8" stroke-width="1.6" stroke-linejoin="miter"/>
<path d="M738.8,287.0 L742.8,293.9 L734.8,293.9 Z" fill="none" stroke="#377eb8" stroke-width="1.6" stroke-linejoin="miter"/>
<path d="M754.8,287.0 L758.8,293.9 L750.8,293.9 Z" fill="none" stroke="#377eb8" stroke-width="1.6" stroke-linejoin="miter"/>
<path d="M770.9,287.0 L774.9,293.9 L766.9,293.9 Z" fill="none" stroke="#377eb8" stroke-width="1.6" stroke-linejoin="miter"/>
<path d="M786.9,287.0 L790.9,293.9 L782.9,293.9 Z" fill="none" stroke="#377eb8" stroke-width="1.6" stroke-linejoin="miter"/>
<path d="M803.0,287.0 L807.0,293.9 L799.0,293.9 Z" fill="none" stroke="#377eb8" stroke-width="1.6" stroke-linejoin="miter"/>
<path d="M819.0,287.0 L823.0,293.9 L815.0,293.9 Z" fill="none" stroke="#377eb8" stroke-width="1.6" stroke-linejoin="miter"/>
<polyline points="578.3,45.0 594.4,45.0 610.4,45.0 626.4,45.0 642.5,46.2 658.5,51.2 674.6,57.3 690.6,74.6 706.7,120.1 722.8,235.9 738.8,291.3 754.8,291.3 770.9,291.3 786.9,291.3 803.0,291.3 819.0,291.3" fill="none" stroke="#984ea3" stroke-width="1.8" stroke-linejoin="round"/>
<path d="M574.0,45.0 L580.9,41.0 L580.9,49.0 Z" fill="none" stroke="#984ea3" stroke-width="1.6"/>
<path d="M590.1,45.0 L597.0,41.0 L597.0,49.0 Z" fill="none" stroke="#984ea3" stroke-width="1.6"/>
<path d="M606.1,45.0 L613.0,41.0 L613.0,49.0 Z" fill="none" stroke="#984ea3" stroke-width="1.6"/>
<path d="M622.1,45.0 L629.0,41.0 L629.0,49.0 Z" fill="none" stroke="#984ea3" stroke-width="1.6"/>
<path d="M638.2,46.2 L645.1,42.2 L645.1,50.2 Z" fill="none" stroke="#984ea3" stroke-width="1.6"/>
<path d="M654.2,51.2 L661.1,47.2 L661.1,55.2 Z" fill="none" stroke="#984ea3" stroke-width="1.6"/>
<path d="M670.3,57.3 L677.2,53.3 L677.2,61.3 Z" fill="none" stroke="#984ea3" stroke-width="1.6"/>
<path d="M686.4,74.6 L693.2,70.6 L693.2,78.6 Z" fill="none" stroke="#984ea3" stroke-width="1.6"/>
<path d="M702.4,120.1 L709.3,116.1 L709.3,124.1 Z" fill="none" stroke="#984ea3" stroke-width="1.6"/>
<path d="M718.5,235.9 L725.4,231.9 L725.4,239.9 Z" fill="none" stroke="#984ea3" stroke-width="1.6"/>
<path d="M734.5,291.3 L741.4,287.3 L741.4,295.3 Z" fill="none" stroke="#984ea3" stroke-width="1.6"/>
<path d="M750.5,291.3 L757.4,287.3 L757.4,295.3 Z" fill="none" stroke="#984ea3" stroke-width="1.6"/>
<path d="M766.6,291.3 L773.5,287.3 L773.5,295.3 Z" fill="none" stroke="#984ea3" stroke-width="1.6"/>
<path d="M782.6,291.3 L789.5,287.3 L789.5,295.3 Z" fill="none" stroke="#984ea3" stroke-width="1.6"/>
<path d="M798.7,291.3 L805.6,287.3 L805.6,295.3 Z" fill="none" stroke="#984ea3" stroke-width="1.6"/>
<path d="M814.8,291.3 L821.6,287.3 L821.6,295.3 Z" fill="none" stroke="#984ea3" stroke-width="1.6"/>
</g>
<rect x="572" y="35" width="251.79999999999995" height="266.5" fill="none" stroke="#000" stroke-width="1.2"/>
<line x1="578.3" y1="301.5" x2="578.3" y2="297.5" stroke="#000" stroke-width="1"/>
<line x1="578.3" y1="35" x2="578.3" y2="39" stroke="#000" stroke-width="1"/>
<text x="578.3" y="317.8" class="ss" font-size="12.5" text-anchor="middle">1</text>
<line x1="658.5" y1="301.5" x2="658.5" y2="297.5" stroke="#000" stroke-width="1"/>
<line x1="658.5" y1="35" x2="658.5" y2="39" stroke="#000" stroke-width="1"/>
<text x="658.5" y="317.8" class="ss" font-size="12.5" text-anchor="middle">1.5</text>
<line x1="738.8" y1="301.5" x2="738.8" y2="297.5" stroke="#000" stroke-width="1"/>
<line x1="738.8" y1="35" x2="738.8" y2="39" stroke="#000" stroke-width="1"/>
<text x="738.8" y="317.8" class="ss" font-size="12.5" text-anchor="middle">2</text>
<line x1="819.0" y1="301.5" x2="819.0" y2="297.5" stroke="#000" stroke-width="1"/>
<line x1="819.0" y1="35" x2="819.0" y2="39" stroke="#000" stroke-width="1"/>
<text x="819.0" y="317.8" class="ss" font-size="12.5" text-anchor="middle">2.5</text>
<line x1="572" y1="291.3" x2="576" y2="291.3" stroke="#000" stroke-width="1"/>
<line x1="823.8" y1="291.3" x2="819.8" y2="291.3" stroke="#000" stroke-width="1"/>
<text x="567.2" y="295.8" class="ss" font-size="12.5" text-anchor="end">0</text>
<line x1="572" y1="242.0" x2="576" y2="242.0" stroke="#000" stroke-width="1"/>
<line x1="823.8" y1="242.0" x2="819.8" y2="242.0" stroke="#000" stroke-width="1"/>
<text x="567.2" y="246.5" class="ss" font-size="12.5" text-anchor="end">0.2</text>
<line x1="572" y1="192.8" x2="576" y2="192.8" stroke="#000" stroke-width="1"/>
<line x1="823.8" y1="192.8" x2="819.8" y2="192.8" stroke="#000" stroke-width="1"/>
<text x="567.2" y="197.3" class="ss" font-size="12.5" text-anchor="end">0.4</text>
<line x1="572" y1="143.5" x2="576" y2="143.5" stroke="#000" stroke-width="1"/>
<line x1="823.8" y1="143.5" x2="819.8" y2="143.5" stroke="#000" stroke-width="1"/>
<text x="567.2" y="148.0" class="ss" font-size="12.5" text-anchor="end">0.6</text>
<line x1="572" y1="94.3" x2="576" y2="94.3" stroke="#000" stroke-width="1"/>
<line x1="823.8" y1="94.3" x2="819.8" y2="94.3" stroke="#000" stroke-width="1"/>
<text x="567.2" y="98.8" class="ss" font-size="12.5" text-anchor="end">0.8</text>
<line x1="572" y1="45.0" x2="576" y2="45.0" stroke="#000" stroke-width="1"/>
<line x1="823.8" y1="45.0" x2="819.8" y2="45.0" stroke="#000" stroke-width="1"/>
<text x="567.2" y="49.5" class="ss" font-size="12.5" text-anchor="end">1</text>
<text transform="translate(536.2,167.2) rotate(-90)" class="ss" font-size="15.9" text-anchor="middle">Frequency of cooperators</text>
<text x="697.3" y="335.2" class="mi" font-size="19">b</text>
<text x="581.7" y="198.4" class="ss" font-size="11.9">Edge-removed</text>
<line x1="582" y1="212" x2="603.8" y2="212" stroke="#4daf4a" stroke-width="1.8"/>
<circle cx="593.0" cy="212.0" r="3.15" fill="none" stroke="#4daf4a" stroke-width="1.6"/>
<text x="608.6" y="216.5" font-size="14.5" text-anchor="start" xml:space="preserve" textLength="14.5" lengthAdjust="spacingAndGlyphs"><tspan class="mi" dy="-0.00">E</tspan><tspan class="mr" font-size="10.15" dy="3.19">1</tspan></text>
<line x1="582" y1="227.3" x2="603.8" y2="227.3" stroke="#ff7f00" stroke-width="1.8"/>
<circle cx="593.0" cy="227.3" r="3.15" fill="none" stroke="#ff7f00" stroke-width="1.6"/>
<text x="608.6" y="231.8" font-size="14.5" text-anchor="start" xml:space="preserve" textLength="14.5" lengthAdjust="spacingAndGlyphs"><tspan class="mi" dy="-0.00">E</tspan><tspan class="mr" font-size="10.15" dy="3.19">2</tspan></text>
<line x1="582" y1="242.6" x2="603.8" y2="242.6" stroke="#e41a1c" stroke-width="1.8"/>
<path d="M593.0,238.3 L597.0,245.2 L589.0,245.2 Z" fill="none" stroke="#e41a1c" stroke-width="1.6" stroke-linejoin="miter"/>
<text x="608.6" y="247.1" font-size="14.5" text-anchor="start" xml:space="preserve" textLength="14.5" lengthAdjust="spacingAndGlyphs"><tspan class="mi" dy="-0.00">E</tspan><tspan class="mr" font-size="10.15" dy="3.19">3</tspan></text>
<line x1="582" y1="257.8" x2="603.8" y2="257.8" stroke="#377eb8" stroke-width="1.8"/>
<path d="M593.0,253.5 L597.0,260.4 L589.0,260.4 Z" fill="none" stroke="#377eb8" stroke-width="1.6" stroke-linejoin="miter"/>
<text x="608.6" y="262.3" font-size="14.5" text-anchor="start" xml:space="preserve" textLength="14.5" lengthAdjust="spacingAndGlyphs"><tspan class="mi" dy="-0.00">E</tspan><tspan class="mr" font-size="10.15" dy="3.19">4</tspan></text>
<line x1="582" y1="273.1" x2="603.8" y2="273.1" stroke="#984ea3" stroke-width="1.8"/>
<path d="M588.7,273.1 L595.6,269.1 L595.6,277.1 Z" fill="none" stroke="#984ea3" stroke-width="1.6"/>
<text x="608.6" y="277.6" font-size="14.5" text-anchor="start" xml:space="preserve" textLength="16" lengthAdjust="spacingAndGlyphs"><tspan class="mi" dy="-0.00">E</tspan><tspan class="mi" font-size="10.15" dy="3.19">S</tspan></text>
<line x1="582" y1="288.3" x2="603.8" y2="288.3" stroke="#000000" stroke-width="1.8"/>
<rect x="590.0" y="285.3" width="6" height="6" fill="none" stroke="#000000" stroke-width="1.6"/>
<text x="607.8" y="292.5" class="ss" font-size="11.7">Random</text>
</svg>
</body></html>
